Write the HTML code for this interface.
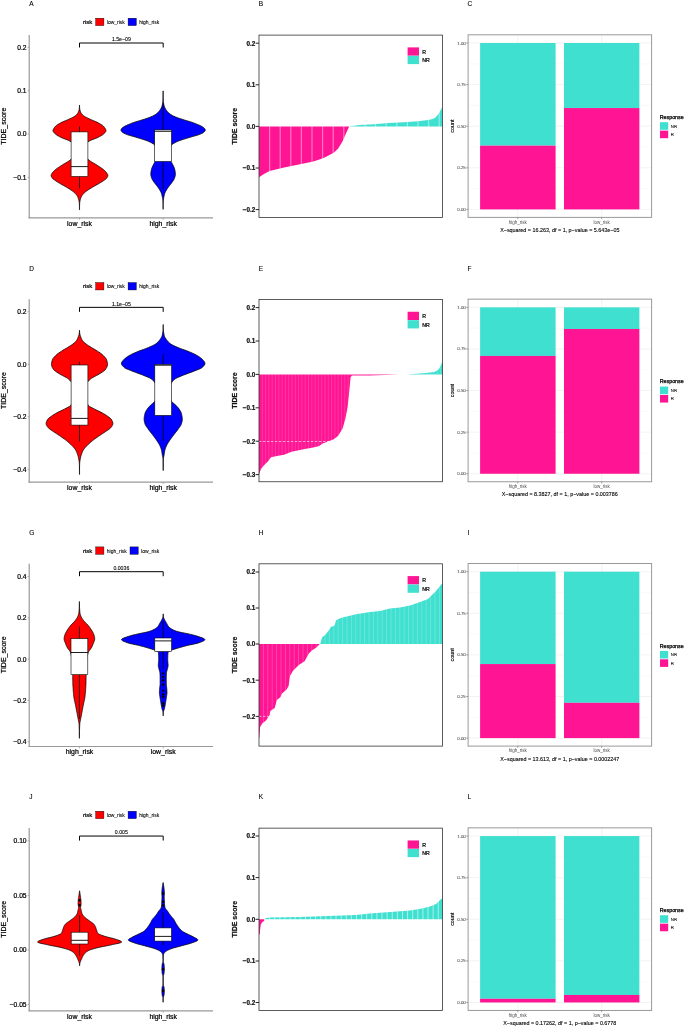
<!DOCTYPE html>
<html><head><meta charset="utf-8"><title>TIDE figure</title><style>html,body{margin:0;padding:0;background:#fff;width:685px;height:1027px;overflow:hidden;}svg{display:block;will-change:transform;font-family:"Liberation Sans", sans-serif;}</style></head><body>
<svg width="685" height="1027" viewBox="0 0 685 1027" font-family='"Liberation Sans", sans-serif'>
<rect width="685" height="1027" fill="#fff"/>
<text x="29.3" y="6.2" font-size="6.5" text-anchor="start" fill="#000" stroke="#000" stroke-width="0.1">A</text>
<text x="83" y="24.1" font-size="6" text-anchor="start" fill="#000" stroke="#000" stroke-width="0.22">risk</text>
<rect x="95.7" y="18.2" width="8.2" height="7.4" fill="#FF0000" stroke="#000" stroke-width="0.4"/>
<text x="106.8" y="23.9" font-size="5" text-anchor="start" fill="#000" stroke="#000" stroke-width="0.08">low_risk</text>
<rect x="128.1" y="18.2" width="8.2" height="7.4" fill="#0000FF" stroke="#000" stroke-width="0.4"/>
<text x="139.2" y="23.9" font-size="5" text-anchor="start" fill="#000" stroke="#000" stroke-width="0.08">high_risk</text>
<line x1="29.2" y1="35" x2="29.2" y2="218.3" stroke="#999" stroke-width="1.2"/>
<line x1="28.6" y1="217.8" x2="213" y2="217.8" stroke="#999" stroke-width="1.2"/>
<line x1="27.6" y1="47.4" x2="29.2" y2="47.4" stroke="#999" stroke-width="0.8"/>
<text x="26.6" y="49.8" font-size="6.7" text-anchor="end" fill="#000" stroke="#000" stroke-width="0.22">0.2</text>
<line x1="27.6" y1="90.7" x2="29.2" y2="90.7" stroke="#999" stroke-width="0.8"/>
<text x="26.6" y="93.1" font-size="6.7" text-anchor="end" fill="#000" stroke="#000" stroke-width="0.22">0.1</text>
<line x1="27.6" y1="134" x2="29.2" y2="134" stroke="#999" stroke-width="0.8"/>
<text x="26.6" y="136.4" font-size="6.7" text-anchor="end" fill="#000" stroke="#000" stroke-width="0.22">0.0</text>
<line x1="27.6" y1="177.4" x2="29.2" y2="177.4" stroke="#999" stroke-width="0.8"/>
<text x="26.6" y="179.8" font-size="6.7" text-anchor="end" fill="#000" stroke="#000" stroke-width="0.22">−0.1</text>
<line x1="79.5" y1="217.8" x2="79.5" y2="219.6" stroke="#999" stroke-width="0.8"/>
<text x="79.5" y="225.6" font-size="6.9" text-anchor="middle" fill="#000" stroke="#000" stroke-width="0.22">low_risk</text>
<line x1="163.2" y1="217.8" x2="163.2" y2="219.6" stroke="#999" stroke-width="0.8"/>
<text x="163.2" y="225.6" font-size="6.9" text-anchor="middle" fill="#000" stroke="#000" stroke-width="0.22">high_risk</text>
<text x="6.3" y="126.2" font-size="7" text-anchor="middle" fill="#000" transform="rotate(-90 6.3 126.2)" stroke="#000" stroke-width="0.22">TIDE_score</text>
<path d="M79.56 105 L79.56 105.66 L79.56 106.32 L79.57 106.98 L79.62 107.63 L79.68 108.29 L79.75 108.95 L79.87 109.61 L80.02 110.27 L80.2 110.93 L80.44 111.58 L80.73 112.24 L81.07 112.9 L81.47 113.56 L81.99 114.22 L82.65 114.88 L83.41 115.54 L84.26 116.19 L85.25 116.85 L86.46 117.51 L87.83 118.17 L89.27 118.83 L90.69 119.49 L92.19 120.15 L93.8 120.8 L95.39 121.46 L96.86 122.12 L98.11 122.78 L99.32 123.44 L100.48 124.1 L101.56 124.75 L102.52 125.41 L103.31 126.07 L103.9 126.73 L104.42 127.39 L104.91 128.05 L105.34 128.71 L105.68 129.36 L105.91 130.02 L106 130.68 L105.87 131.34 L105.51 132 L104.97 132.66 L104.29 133.32 L103.55 133.97 L102.78 134.63 L101.91 135.29 L100.82 135.95 L99.56 136.61 L98.21 137.27 L96.83 137.92 L95.24 138.58 L93.46 139.24 L91.7 139.9 L90.15 140.56 L88.96 141.22 L87.89 141.88 L86.96 142.53 L86.24 143.19 L85.77 143.85 L85.39 144.51 L85.07 145.17 L84.8 145.83 L84.61 146.48 L84.48 147.14 L84.37 147.8 L84.28 148.46 L84.21 149.12 L84.15 149.78 L84.11 150.44 L84.1 151.09 L84.14 151.75 L84.25 152.41 L84.4 153.07 L84.58 153.73 L84.79 154.39 L85.02 155.05 L85.32 155.7 L85.73 156.36 L86.22 157.02 L86.74 157.68 L87.27 158.34 L87.86 159 L88.51 159.65 L89.25 160.31 L90.13 160.97 L91.13 161.63 L92.21 162.29 L93.34 162.95 L94.49 163.61 L95.61 164.26 L96.68 164.92 L97.67 165.58 L98.68 166.24 L99.69 166.9 L100.69 167.56 L101.66 168.22 L102.57 168.87 L103.42 169.53 L104.18 170.19 L104.87 170.85 L105.52 171.51 L106.11 172.17 L106.63 172.82 L107.05 173.48 L107.45 174.14 L107.78 174.8 L107.9 175.46 L107.79 176.12 L107.52 176.78 L107.15 177.43 L106.74 178.09 L106.14 178.75 L105.32 179.41 L104.4 180.07 L103.48 180.73 L102.51 181.38 L101.46 182.04 L100.35 182.7 L99.22 183.36 L98.09 184.02 L96.97 184.68 L95.83 185.34 L94.65 185.99 L93.47 186.65 L92.3 187.31 L91.17 187.97 L90.11 188.63 L89.1 189.29 L88.11 189.95 L87.15 190.6 L86.24 191.26 L85.39 191.92 L84.63 192.58 L83.96 193.24 L83.33 193.9 L82.75 194.55 L82.24 195.21 L81.82 195.87 L81.46 196.53 L81.14 197.19 L80.87 197.85 L80.63 198.51 L80.42 199.16 L80.25 199.82 L80.1 200.48 L79.97 201.14 L79.85 201.8 L79.75 202.46 L79.69 203.12 L79.66 203.77 L79.63 204.43 L79.6 205.09 L79.57 205.75 L79.56 206.41 L79.56 207.07 L79.56 207.72 L79.56 208.38 L79.56 209.04 L79.56 209.7 L79.44 209.7 L79.44 209.04 L79.44 208.38 L79.44 207.72 L79.44 207.07 L79.44 206.41 L79.43 205.75 L79.4 205.09 L79.37 204.43 L79.34 203.77 L79.31 203.12 L79.25 202.46 L79.15 201.8 L79.03 201.14 L78.9 200.48 L78.75 199.82 L78.58 199.16 L78.37 198.51 L78.13 197.85 L77.86 197.19 L77.54 196.53 L77.18 195.87 L76.76 195.21 L76.25 194.55 L75.67 193.9 L75.04 193.24 L74.37 192.58 L73.61 191.92 L72.76 191.26 L71.85 190.6 L70.89 189.95 L69.9 189.29 L68.89 188.63 L67.83 187.97 L66.7 187.31 L65.53 186.65 L64.35 185.99 L63.17 185.34 L62.03 184.68 L60.91 184.02 L59.78 183.36 L58.65 182.7 L57.54 182.04 L56.49 181.38 L55.52 180.73 L54.6 180.07 L53.68 179.41 L52.86 178.75 L52.26 178.09 L51.85 177.43 L51.48 176.78 L51.21 176.12 L51.1 175.46 L51.22 174.8 L51.55 174.14 L51.95 173.48 L52.37 172.82 L52.89 172.17 L53.48 171.51 L54.13 170.85 L54.82 170.19 L55.58 169.53 L56.43 168.87 L57.34 168.22 L58.31 167.56 L59.31 166.9 L60.32 166.24 L61.33 165.58 L62.32 164.92 L63.39 164.26 L64.51 163.61 L65.66 162.95 L66.79 162.29 L67.87 161.63 L68.87 160.97 L69.75 160.31 L70.49 159.65 L71.14 159 L71.73 158.34 L72.26 157.68 L72.78 157.02 L73.27 156.36 L73.68 155.7 L73.98 155.05 L74.21 154.39 L74.42 153.73 L74.6 153.07 L74.75 152.41 L74.86 151.75 L74.9 151.09 L74.89 150.44 L74.85 149.78 L74.79 149.12 L74.72 148.46 L74.63 147.8 L74.52 147.14 L74.39 146.48 L74.2 145.83 L73.93 145.17 L73.61 144.51 L73.23 143.85 L72.76 143.19 L72.04 142.53 L71.11 141.88 L70.04 141.22 L68.85 140.56 L67.3 139.9 L65.54 139.24 L63.76 138.58 L62.17 137.92 L60.79 137.27 L59.44 136.61 L58.18 135.95 L57.09 135.29 L56.22 134.63 L55.45 133.97 L54.71 133.32 L54.03 132.66 L53.49 132 L53.13 131.34 L53 130.68 L53.09 130.02 L53.32 129.36 L53.66 128.71 L54.09 128.05 L54.58 127.39 L55.1 126.73 L55.69 126.07 L56.48 125.41 L57.44 124.75 L58.52 124.1 L59.68 123.44 L60.89 122.78 L62.14 122.12 L63.61 121.46 L65.2 120.8 L66.81 120.15 L68.31 119.49 L69.73 118.83 L71.17 118.17 L72.54 117.51 L73.75 116.85 L74.74 116.19 L75.59 115.54 L76.35 114.88 L77.01 114.22 L77.53 113.56 L77.93 112.9 L78.27 112.24 L78.56 111.58 L78.8 110.93 L78.98 110.27 L79.13 109.61 L79.25 108.95 L79.32 108.29 L79.38 107.63 L79.43 106.98 L79.44 106.32 L79.44 105.66 L79.44 105 Z" fill="#FF0000" stroke="#000" stroke-width="0.75" stroke-linejoin="round"/>
<line x1="79.5" y1="126.3" x2="79.5" y2="131.9" stroke="#000" stroke-width="0.75"/>
<line x1="79.5" y1="176.5" x2="79.5" y2="188.5" stroke="#000" stroke-width="0.75"/>
<rect x="71.1" y="131.9" width="16.8" height="44.6" fill="#fff" stroke="#000" stroke-width="0.6"/>
<line x1="71.1" y1="166.6" x2="87.9" y2="166.6" stroke="#000" stroke-width="0.9"/>
<path d="M163.16 90.9 L163.16 91.64 L163.16 92.39 L163.16 93.13 L163.16 93.88 L163.16 94.62 L163.16 95.37 L163.16 96.11 L163.17 96.86 L163.18 97.6 L163.21 98.35 L163.23 99.09 L163.25 99.84 L163.28 100.58 L163.32 101.33 L163.42 102.07 L163.55 102.81 L163.67 103.56 L163.8 104.3 L163.94 105.05 L164.13 105.79 L164.38 106.54 L164.68 107.28 L165.02 108.03 L165.4 108.77 L165.85 109.52 L166.37 110.26 L166.93 111.01 L167.54 111.75 L168.23 112.49 L169.03 113.24 L169.97 113.98 L171.08 114.73 L172.35 115.47 L173.86 116.22 L175.61 116.96 L177.52 117.71 L179.61 118.45 L181.88 119.2 L184.23 119.94 L186.72 120.69 L189.28 121.43 L191.62 122.18 L193.71 122.92 L195.64 123.66 L197.46 124.41 L199.25 125.15 L200.91 125.9 L202.22 126.64 L203.33 127.39 L204.23 128.13 L204.81 128.88 L205.2 129.62 L205.27 130.37 L204.9 131.11 L204.25 131.86 L203.44 132.6 L202.12 133.35 L200.42 134.09 L198.49 134.83 L196.05 135.58 L193.39 136.32 L190.87 137.07 L188.35 137.81 L185.89 138.56 L183.53 139.3 L181.2 140.05 L179.07 140.79 L177.3 141.54 L175.77 142.28 L174.38 143.03 L173.05 143.77 L171.89 144.52 L171.25 145.26 L170.74 146 L170.34 146.75 L170.04 147.49 L169.84 148.24 L169.68 148.98 L169.53 149.73 L169.41 150.47 L169.33 151.22 L169.3 151.96 L169.32 152.71 L169.37 153.45 L169.45 154.2 L169.54 154.94 L169.65 155.68 L169.78 156.43 L169.96 157.17 L170.19 157.92 L170.44 158.66 L170.67 159.41 L170.88 160.15 L171.08 160.9 L171.31 161.64 L171.6 162.39 L171.96 163.13 L172.36 163.88 L172.76 164.62 L173.14 165.37 L173.48 166.11 L173.83 166.85 L174.17 167.6 L174.46 168.34 L174.68 169.09 L174.83 169.83 L174.98 170.58 L175.12 171.32 L175.23 172.07 L175.32 172.81 L175.38 173.56 L175.4 174.3 L175.35 175.05 L175.23 175.79 L175.04 176.54 L174.8 177.28 L174.54 178.02 L174.27 178.77 L173.94 179.51 L173.5 180.26 L173.01 181 L172.49 181.75 L171.97 182.49 L171.41 183.24 L170.81 183.98 L170.2 184.73 L169.6 185.47 L169.04 186.22 L168.49 186.96 L167.95 187.71 L167.43 188.45 L166.95 189.19 L166.5 189.94 L166.06 190.68 L165.64 191.43 L165.26 192.17 L164.94 192.92 L164.68 193.66 L164.47 194.41 L164.28 195.15 L164.11 195.9 L163.95 196.64 L163.8 197.39 L163.66 198.13 L163.53 198.87 L163.43 199.62 L163.35 200.36 L163.3 201.11 L163.26 201.85 L163.23 202.6 L163.21 203.34 L163.18 204.09 L163.16 204.83 L163.16 205.58 L163.16 206.32 L163.16 207.07 L163.16 207.81 L163.16 208.56 L163.16 209.3 L163.04 209.3 L163.04 208.56 L163.04 207.81 L163.04 207.07 L163.04 206.32 L163.04 205.58 L163.04 204.83 L163.02 204.09 L162.99 203.34 L162.97 202.6 L162.94 201.85 L162.9 201.11 L162.85 200.36 L162.77 199.62 L162.67 198.87 L162.54 198.13 L162.4 197.39 L162.25 196.64 L162.09 195.9 L161.92 195.15 L161.73 194.41 L161.52 193.66 L161.26 192.92 L160.94 192.17 L160.56 191.43 L160.14 190.68 L159.7 189.94 L159.25 189.19 L158.77 188.45 L158.25 187.71 L157.71 186.96 L157.16 186.22 L156.6 185.47 L156 184.73 L155.39 183.98 L154.79 183.24 L154.23 182.49 L153.71 181.75 L153.19 181 L152.7 180.26 L152.26 179.51 L151.93 178.77 L151.66 178.02 L151.4 177.28 L151.16 176.54 L150.97 175.79 L150.85 175.05 L150.8 174.3 L150.82 173.56 L150.88 172.81 L150.97 172.07 L151.08 171.32 L151.22 170.58 L151.37 169.83 L151.52 169.09 L151.74 168.34 L152.03 167.6 L152.37 166.85 L152.72 166.11 L153.06 165.37 L153.44 164.62 L153.84 163.88 L154.24 163.13 L154.6 162.39 L154.89 161.64 L155.12 160.9 L155.32 160.15 L155.53 159.41 L155.76 158.66 L156.01 157.92 L156.24 157.17 L156.42 156.43 L156.55 155.68 L156.66 154.94 L156.75 154.2 L156.83 153.45 L156.88 152.71 L156.9 151.96 L156.87 151.22 L156.79 150.47 L156.67 149.73 L156.52 148.98 L156.36 148.24 L156.16 147.49 L155.86 146.75 L155.46 146 L154.95 145.26 L154.31 144.52 L153.15 143.77 L151.82 143.03 L150.43 142.28 L148.9 141.54 L147.13 140.79 L145 140.05 L142.67 139.3 L140.31 138.56 L137.85 137.81 L135.33 137.07 L132.81 136.32 L130.15 135.58 L127.71 134.83 L125.78 134.09 L124.08 133.35 L122.76 132.6 L121.95 131.86 L121.3 131.11 L120.93 130.37 L121 129.62 L121.39 128.88 L121.97 128.13 L122.87 127.39 L123.98 126.64 L125.29 125.9 L126.95 125.15 L128.74 124.41 L130.56 123.66 L132.49 122.92 L134.58 122.18 L136.92 121.43 L139.48 120.69 L141.97 119.94 L144.32 119.2 L146.59 118.45 L148.68 117.71 L150.59 116.96 L152.34 116.22 L153.85 115.47 L155.12 114.73 L156.23 113.98 L157.17 113.24 L157.97 112.49 L158.66 111.75 L159.27 111.01 L159.83 110.26 L160.35 109.52 L160.8 108.77 L161.18 108.03 L161.52 107.28 L161.82 106.54 L162.07 105.79 L162.26 105.05 L162.4 104.3 L162.53 103.56 L162.65 102.81 L162.78 102.07 L162.88 101.33 L162.92 100.58 L162.95 99.84 L162.97 99.09 L162.99 98.35 L163.02 97.6 L163.03 96.86 L163.04 96.11 L163.04 95.37 L163.04 94.62 L163.04 93.88 L163.04 93.13 L163.04 92.39 L163.04 91.64 L163.04 90.9 Z" fill="#0000FF" stroke="#000" stroke-width="0.75" stroke-linejoin="round"/>
<line x1="163.1" y1="103.3" x2="163.1" y2="129.9" stroke="#000" stroke-width="0.75"/>
<line x1="163.1" y1="161.5" x2="163.1" y2="189.6" stroke="#000" stroke-width="0.75"/>
<rect x="154.7" y="129.9" width="16.8" height="31.6" fill="#fff" stroke="#000" stroke-width="0.6"/>
<line x1="154.7" y1="131.3" x2="171.5" y2="131.3" stroke="#000" stroke-width="0.9"/>
<path d="M79.5 47.5 V43 H163.2 V47.5" fill="none" stroke="#000" stroke-width="1.0"/>
<text x="121.35" y="41.4" font-size="5.2" text-anchor="middle" fill="#000" stroke="#000" stroke-width="0.1">1.5e−09</text>
<text x="29.3" y="270.55" font-size="6.5" text-anchor="start" fill="#000" stroke="#000" stroke-width="0.1">D</text>
<text x="83" y="288.45" font-size="6" text-anchor="start" fill="#000" stroke="#000" stroke-width="0.22">risk</text>
<rect x="95.7" y="282.55" width="8.2" height="7.4" fill="#FF0000" stroke="#000" stroke-width="0.4"/>
<text x="106.8" y="288.25" font-size="5" text-anchor="start" fill="#000" stroke="#000" stroke-width="0.08">low_risk</text>
<rect x="128.1" y="282.55" width="8.2" height="7.4" fill="#0000FF" stroke="#000" stroke-width="0.4"/>
<text x="139.2" y="288.25" font-size="5" text-anchor="start" fill="#000" stroke="#000" stroke-width="0.08">high_risk</text>
<line x1="29.2" y1="299.35" x2="29.2" y2="482.65" stroke="#999" stroke-width="1.2"/>
<line x1="28.6" y1="482.15" x2="213" y2="482.15" stroke="#999" stroke-width="1.2"/>
<line x1="27.6" y1="311.7" x2="29.2" y2="311.7" stroke="#999" stroke-width="0.8"/>
<text x="26.6" y="314.1" font-size="6.7" text-anchor="end" fill="#000" stroke="#000" stroke-width="0.22">0.2</text>
<line x1="27.6" y1="364.3" x2="29.2" y2="364.3" stroke="#999" stroke-width="0.8"/>
<text x="26.6" y="366.7" font-size="6.7" text-anchor="end" fill="#000" stroke="#000" stroke-width="0.22">0.0</text>
<line x1="27.6" y1="416.8" x2="29.2" y2="416.8" stroke="#999" stroke-width="0.8"/>
<text x="26.6" y="419.2" font-size="6.7" text-anchor="end" fill="#000" stroke="#000" stroke-width="0.22">−0.2</text>
<line x1="27.6" y1="469.3" x2="29.2" y2="469.3" stroke="#999" stroke-width="0.8"/>
<text x="26.6" y="471.7" font-size="6.7" text-anchor="end" fill="#000" stroke="#000" stroke-width="0.22">−0.4</text>
<line x1="79.5" y1="482.15" x2="79.5" y2="483.95" stroke="#999" stroke-width="0.8"/>
<text x="79.5" y="489.95" font-size="6.9" text-anchor="middle" fill="#000" stroke="#000" stroke-width="0.22">low_risk</text>
<line x1="163.2" y1="482.15" x2="163.2" y2="483.95" stroke="#999" stroke-width="0.8"/>
<text x="163.2" y="489.95" font-size="6.9" text-anchor="middle" fill="#000" stroke="#000" stroke-width="0.22">high_risk</text>
<text x="6.3" y="390.55" font-size="7" text-anchor="middle" fill="#000" transform="rotate(-90 6.3 390.55)" stroke="#000" stroke-width="0.22">TIDE_score</text>
<path d="M79.56 330.3 L79.56 331.21 L79.61 332.11 L79.7 333.02 L79.83 333.93 L80.03 334.83 L80.34 335.74 L80.68 336.64 L81.01 337.55 L81.35 338.46 L81.75 339.36 L82.24 340.27 L82.93 341.18 L83.83 342.08 L84.85 342.99 L85.94 343.89 L87.16 344.8 L88.53 345.71 L89.97 346.61 L91.42 347.52 L92.96 348.43 L94.55 349.33 L96.08 350.24 L97.48 351.14 L98.85 352.05 L100.18 352.96 L101.43 353.86 L102.54 354.77 L103.47 355.68 L104.35 356.58 L105.17 357.49 L105.88 358.39 L106.43 359.3 L106.76 360.21 L106.99 361.11 L107.2 362.02 L107.36 362.93 L107.46 363.83 L107.5 364.74 L107.39 365.65 L107.1 366.55 L106.68 367.46 L106.16 368.36 L105.58 369.27 L104.85 370.18 L103.77 371.08 L102.46 371.99 L101.03 372.9 L99.57 373.8 L98.09 374.71 L96.39 375.61 L94.61 376.52 L92.89 377.43 L91.4 378.33 L90.25 379.24 L89.28 380.15 L88.44 381.05 L87.64 381.96 L86.87 382.86 L86.19 383.77 L85.65 384.68 L85.26 385.58 L84.9 386.49 L84.57 387.4 L84.32 388.3 L84.15 389.21 L84.1 390.12 L84.1 391.02 L84.1 391.93 L84.1 392.83 L84.1 393.74 L84.1 394.65 L84.13 395.55 L84.28 396.46 L84.53 397.37 L84.84 398.27 L85.19 399.18 L85.53 400.08 L85.93 400.99 L86.4 401.9 L86.89 402.8 L87.35 403.71 L87.8 404.62 L88.42 405.52 L89.52 406.43 L91.11 407.33 L92.92 408.24 L94.68 409.15 L96.49 410.05 L98.41 410.96 L100.28 411.87 L102 412.77 L103.61 413.68 L105.15 414.58 L106.57 415.49 L107.85 416.4 L109.12 417.3 L110.26 418.21 L111.14 419.12 L111.69 420.02 L112.16 420.93 L112.55 421.84 L112.81 422.74 L112.9 423.65 L112.74 424.55 L112.34 425.46 L111.78 426.37 L111.12 427.27 L110.37 428.18 L109.26 429.09 L107.92 429.99 L106.54 430.9 L105.23 431.8 L103.89 432.71 L102.52 433.62 L101.14 434.52 L99.78 435.43 L98.47 436.34 L97.16 437.24 L95.86 438.15 L94.6 439.05 L93.39 439.96 L92.24 440.87 L91.14 441.77 L90.08 442.68 L89.07 443.59 L88.11 444.49 L87.21 445.4 L86.33 446.31 L85.47 447.21 L84.67 448.12 L83.97 449.02 L83.38 449.93 L82.9 450.84 L82.47 451.74 L82.09 452.65 L81.75 453.56 L81.44 454.46 L81.16 455.37 L80.89 456.27 L80.64 457.18 L80.42 458.09 L80.24 458.99 L80.09 459.9 L79.96 460.81 L79.85 461.71 L79.76 462.62 L79.67 463.52 L79.64 464.43 L79.61 465.34 L79.59 466.24 L79.57 467.15 L79.56 468.06 L79.56 468.96 L79.56 469.87 L79.56 470.77 L79.56 471.68 L79.56 472.59 L79.56 473.49 L79.56 474.4 L79.44 474.4 L79.44 473.49 L79.44 472.59 L79.44 471.68 L79.44 470.77 L79.44 469.87 L79.44 468.96 L79.44 468.06 L79.43 467.15 L79.41 466.24 L79.39 465.34 L79.36 464.43 L79.33 463.52 L79.24 462.62 L79.15 461.71 L79.04 460.81 L78.91 459.9 L78.76 458.99 L78.58 458.09 L78.36 457.18 L78.11 456.27 L77.84 455.37 L77.56 454.46 L77.25 453.56 L76.91 452.65 L76.53 451.74 L76.1 450.84 L75.62 449.93 L75.03 449.02 L74.33 448.12 L73.53 447.21 L72.67 446.31 L71.79 445.4 L70.89 444.49 L69.93 443.59 L68.92 442.68 L67.86 441.77 L66.76 440.87 L65.61 439.96 L64.4 439.05 L63.14 438.15 L61.84 437.24 L60.53 436.34 L59.22 435.43 L57.86 434.52 L56.48 433.62 L55.11 432.71 L53.77 431.8 L52.46 430.9 L51.08 429.99 L49.74 429.09 L48.63 428.18 L47.88 427.27 L47.22 426.37 L46.66 425.46 L46.26 424.55 L46.1 423.65 L46.19 422.74 L46.45 421.84 L46.84 420.93 L47.31 420.02 L47.86 419.12 L48.74 418.21 L49.88 417.3 L51.15 416.4 L52.43 415.49 L53.85 414.58 L55.39 413.68 L57 412.77 L58.72 411.87 L60.59 410.96 L62.51 410.05 L64.32 409.15 L66.08 408.24 L67.89 407.33 L69.48 406.43 L70.58 405.52 L71.2 404.62 L71.65 403.71 L72.11 402.8 L72.6 401.9 L73.07 400.99 L73.47 400.08 L73.81 399.18 L74.16 398.27 L74.47 397.37 L74.72 396.46 L74.87 395.55 L74.9 394.65 L74.9 393.74 L74.9 392.83 L74.9 391.93 L74.9 391.02 L74.9 390.12 L74.85 389.21 L74.68 388.3 L74.43 387.4 L74.1 386.49 L73.74 385.58 L73.35 384.68 L72.81 383.77 L72.13 382.86 L71.36 381.96 L70.56 381.05 L69.72 380.15 L68.75 379.24 L67.6 378.33 L66.11 377.43 L64.39 376.52 L62.61 375.61 L60.91 374.71 L59.43 373.8 L57.97 372.9 L56.54 371.99 L55.23 371.08 L54.15 370.18 L53.42 369.27 L52.84 368.36 L52.32 367.46 L51.9 366.55 L51.61 365.65 L51.5 364.74 L51.54 363.83 L51.64 362.93 L51.8 362.02 L52.01 361.11 L52.24 360.21 L52.57 359.3 L53.12 358.39 L53.83 357.49 L54.65 356.58 L55.53 355.68 L56.46 354.77 L57.57 353.86 L58.82 352.96 L60.15 352.05 L61.52 351.14 L62.92 350.24 L64.45 349.33 L66.04 348.43 L67.58 347.52 L69.03 346.61 L70.47 345.71 L71.84 344.8 L73.06 343.89 L74.15 342.99 L75.17 342.08 L76.07 341.18 L76.76 340.27 L77.25 339.36 L77.65 338.46 L77.99 337.55 L78.32 336.64 L78.66 335.74 L78.97 334.83 L79.17 333.93 L79.3 333.02 L79.39 332.11 L79.44 331.21 L79.44 330.3 Z" fill="#FF0000" stroke="#000" stroke-width="0.75" stroke-linejoin="round"/>
<line x1="79.5" y1="361.8" x2="79.5" y2="365" stroke="#000" stroke-width="0.75"/>
<line x1="79.5" y1="425.1" x2="79.5" y2="441.6" stroke="#000" stroke-width="0.75"/>
<rect x="71.1" y="365" width="16.8" height="60.1" fill="#fff" stroke="#000" stroke-width="0.6"/>
<line x1="71.1" y1="418.4" x2="87.9" y2="418.4" stroke="#000" stroke-width="0.9"/>
<path d="M163.26 324.6 L163.26 325.52 L163.26 326.44 L163.26 327.35 L163.26 328.27 L163.3 329.19 L163.35 330.11 L163.4 331.02 L163.57 331.94 L163.76 332.86 L163.91 333.78 L164.06 334.69 L164.25 335.61 L164.55 336.53 L165.01 337.45 L165.58 338.36 L166.2 339.28 L166.86 340.2 L167.6 341.12 L168.44 342.03 L169.41 342.95 L170.56 343.87 L172.06 344.79 L173.87 345.71 L175.87 346.62 L177.96 347.54 L180.24 348.46 L182.8 349.38 L185.43 350.29 L187.89 351.21 L190.09 352.13 L192.2 353.05 L194.2 353.96 L196.01 354.88 L197.59 355.8 L199.05 356.72 L200.38 357.63 L201.54 358.55 L202.46 359.47 L203.29 360.39 L204.07 361.3 L204.67 362.22 L204.98 363.14 L204.9 364.06 L204.46 364.97 L203.76 365.89 L202.9 366.81 L201.87 367.73 L200.2 368.65 L198.05 369.56 L195.69 370.48 L193.42 371.4 L191.04 372.32 L188.51 373.23 L185.98 374.15 L183.62 375.07 L181.37 375.99 L179.09 376.9 L177 377.82 L175.31 378.74 L174.14 379.66 L173.23 380.57 L172.47 381.49 L171.79 382.41 L171.13 383.33 L170.51 384.24 L170 385.16 L169.68 386.08 L169.48 387 L169.3 387.92 L169.16 388.83 L169.05 389.75 L169 390.67 L169.01 391.59 L169.04 392.5 L169.11 393.42 L169.2 394.34 L169.3 395.26 L169.43 396.17 L169.67 397.09 L170.03 398.01 L170.44 398.93 L170.85 399.84 L171.3 400.76 L171.86 401.68 L172.7 402.6 L173.78 403.51 L174.92 404.43 L175.95 405.35 L176.82 406.27 L177.64 407.18 L178.4 408.1 L179.08 409.02 L179.68 409.94 L180.25 410.86 L180.76 411.77 L181.18 412.69 L181.45 413.61 L181.67 414.53 L181.86 415.44 L182.03 416.36 L182.17 417.28 L182.26 418.2 L182.3 419.11 L182.27 420.03 L182.15 420.95 L181.96 421.87 L181.72 422.78 L181.46 423.7 L181.13 424.62 L180.66 425.54 L180.08 426.45 L179.43 427.37 L178.75 428.29 L178.09 429.21 L177.44 430.13 L176.74 431.04 L176.01 431.96 L175.28 432.88 L174.56 433.8 L173.86 434.71 L173.17 435.63 L172.48 436.55 L171.79 437.47 L171.12 438.38 L170.47 439.3 L169.84 440.22 L169.21 441.14 L168.58 442.05 L167.98 442.97 L167.43 443.89 L166.94 444.81 L166.52 445.72 L166.11 446.64 L165.74 447.56 L165.4 448.48 L165.11 449.39 L164.87 450.31 L164.68 451.23 L164.52 452.15 L164.37 453.07 L164.23 453.98 L164.09 454.9 L163.92 455.82 L163.73 456.74 L163.56 457.65 L163.45 458.57 L163.37 459.49 L163.34 460.41 L163.31 461.32 L163.29 462.24 L163.27 463.16 L163.26 464.08 L163.26 464.99 L163.26 465.91 L163.26 466.83 L163.26 467.75 L163.26 468.66 L163.26 469.58 L163.26 470.5 L163.14 470.5 L163.14 469.58 L163.14 468.66 L163.14 467.75 L163.14 466.83 L163.14 465.91 L163.14 464.99 L163.14 464.08 L163.13 463.16 L163.11 462.24 L163.09 461.32 L163.06 460.41 L163.03 459.49 L162.95 458.57 L162.84 457.65 L162.67 456.74 L162.48 455.82 L162.31 454.9 L162.17 453.98 L162.03 453.07 L161.88 452.15 L161.72 451.23 L161.53 450.31 L161.29 449.39 L161 448.48 L160.66 447.56 L160.29 446.64 L159.88 445.72 L159.46 444.81 L158.97 443.89 L158.42 442.97 L157.82 442.05 L157.19 441.14 L156.56 440.22 L155.93 439.3 L155.28 438.38 L154.61 437.47 L153.92 436.55 L153.23 435.63 L152.54 434.71 L151.84 433.8 L151.12 432.88 L150.39 431.96 L149.66 431.04 L148.96 430.13 L148.31 429.21 L147.65 428.29 L146.97 427.37 L146.32 426.45 L145.74 425.54 L145.27 424.62 L144.94 423.7 L144.68 422.78 L144.44 421.87 L144.25 420.95 L144.13 420.03 L144.1 419.11 L144.14 418.2 L144.23 417.28 L144.37 416.36 L144.54 415.44 L144.73 414.53 L144.95 413.61 L145.22 412.69 L145.64 411.77 L146.15 410.86 L146.72 409.94 L147.32 409.02 L148 408.1 L148.76 407.18 L149.58 406.27 L150.45 405.35 L151.48 404.43 L152.62 403.51 L153.7 402.6 L154.54 401.68 L155.1 400.76 L155.55 399.84 L155.96 398.93 L156.37 398.01 L156.73 397.09 L156.97 396.17 L157.1 395.26 L157.2 394.34 L157.29 393.42 L157.36 392.5 L157.39 391.59 L157.4 390.67 L157.35 389.75 L157.24 388.83 L157.1 387.92 L156.92 387 L156.72 386.08 L156.4 385.16 L155.89 384.24 L155.27 383.33 L154.61 382.41 L153.93 381.49 L153.17 380.57 L152.26 379.66 L151.09 378.74 L149.4 377.82 L147.31 376.9 L145.03 375.99 L142.78 375.07 L140.42 374.15 L137.89 373.23 L135.36 372.32 L132.98 371.4 L130.71 370.48 L128.35 369.56 L126.2 368.65 L124.53 367.73 L123.5 366.81 L122.64 365.89 L121.94 364.97 L121.5 364.06 L121.42 363.14 L121.73 362.22 L122.33 361.3 L123.11 360.39 L123.94 359.47 L124.86 358.55 L126.02 357.63 L127.35 356.72 L128.81 355.8 L130.39 354.88 L132.2 353.96 L134.2 353.05 L136.31 352.13 L138.51 351.21 L140.97 350.29 L143.6 349.38 L146.16 348.46 L148.44 347.54 L150.53 346.62 L152.53 345.71 L154.34 344.79 L155.84 343.87 L156.99 342.95 L157.96 342.03 L158.8 341.12 L159.54 340.2 L160.2 339.28 L160.82 338.36 L161.39 337.45 L161.85 336.53 L162.15 335.61 L162.34 334.69 L162.49 333.78 L162.64 332.86 L162.83 331.94 L163 331.02 L163.05 330.11 L163.1 329.19 L163.14 328.27 L163.14 327.35 L163.14 326.44 L163.14 325.52 L163.14 324.6 Z" fill="#0000FF" stroke="#000" stroke-width="0.75" stroke-linejoin="round"/>
<line x1="163.2" y1="353.9" x2="163.2" y2="364.3" stroke="#000" stroke-width="0.75"/>
<line x1="163.2" y1="415.4" x2="163.2" y2="441" stroke="#000" stroke-width="0.75"/>
<rect x="154.8" y="364.3" width="16.8" height="51.1" fill="#fff" stroke="#000" stroke-width="0.6"/>
<line x1="154.8" y1="365.2" x2="171.6" y2="365.2" stroke="#000" stroke-width="0.9"/>
<path d="M79.5 311.85 V307.35 H163.2 V311.85" fill="none" stroke="#000" stroke-width="1.0"/>
<text x="121.35" y="305.75" font-size="5.2" text-anchor="middle" fill="#000" stroke="#000" stroke-width="0.1">1.1e−05</text>
<text x="29.3" y="534.9" font-size="6.5" text-anchor="start" fill="#000" stroke="#000" stroke-width="0.1">G</text>
<text x="83" y="552.8" font-size="6" text-anchor="start" fill="#000" stroke="#000" stroke-width="0.22">risk</text>
<rect x="95.7" y="546.9" width="8.2" height="7.4" fill="#FF0000" stroke="#000" stroke-width="0.4"/>
<text x="106.8" y="552.6" font-size="5" text-anchor="start" fill="#000" stroke="#000" stroke-width="0.08">high_risk</text>
<rect x="130" y="546.9" width="8.2" height="7.4" fill="#0000FF" stroke="#000" stroke-width="0.4"/>
<text x="141.1" y="552.6" font-size="5" text-anchor="start" fill="#000" stroke="#000" stroke-width="0.08">low_risk</text>
<line x1="29.2" y1="563.7" x2="29.2" y2="747" stroke="#999" stroke-width="1.2"/>
<line x1="28.6" y1="746.5" x2="213" y2="746.5" stroke="#999" stroke-width="1.2"/>
<line x1="27.6" y1="576.5" x2="29.2" y2="576.5" stroke="#999" stroke-width="0.8"/>
<text x="26.6" y="578.9" font-size="6.7" text-anchor="end" fill="#000" stroke="#000" stroke-width="0.22">0.4</text>
<line x1="27.6" y1="617.8" x2="29.2" y2="617.8" stroke="#999" stroke-width="0.8"/>
<text x="26.6" y="620.2" font-size="6.7" text-anchor="end" fill="#000" stroke="#000" stroke-width="0.22">0.2</text>
<line x1="27.6" y1="659.1" x2="29.2" y2="659.1" stroke="#999" stroke-width="0.8"/>
<text x="26.6" y="661.5" font-size="6.7" text-anchor="end" fill="#000" stroke="#000" stroke-width="0.22">0.0</text>
<line x1="27.6" y1="700.4" x2="29.2" y2="700.4" stroke="#999" stroke-width="0.8"/>
<text x="26.6" y="702.8" font-size="6.7" text-anchor="end" fill="#000" stroke="#000" stroke-width="0.22">−0.2</text>
<line x1="27.6" y1="741.7" x2="29.2" y2="741.7" stroke="#999" stroke-width="0.8"/>
<text x="26.6" y="744.1" font-size="6.7" text-anchor="end" fill="#000" stroke="#000" stroke-width="0.22">−0.4</text>
<line x1="79.5" y1="746.5" x2="79.5" y2="748.3" stroke="#999" stroke-width="0.8"/>
<text x="79.5" y="754.3" font-size="6.9" text-anchor="middle" fill="#000" stroke="#000" stroke-width="0.22">high_risk</text>
<line x1="163.2" y1="746.5" x2="163.2" y2="748.3" stroke="#999" stroke-width="0.8"/>
<text x="163.2" y="754.3" font-size="6.9" text-anchor="middle" fill="#000" stroke="#000" stroke-width="0.22">low_risk</text>
<text x="6.3" y="654.9" font-size="7" text-anchor="middle" fill="#000" transform="rotate(-90 6.3 654.9)" stroke="#000" stroke-width="0.22">TIDE_score</text>
<path d="M79.46 601.6 L79.46 602.46 L79.46 603.32 L79.46 604.18 L79.46 605.04 L79.48 605.9 L79.52 606.76 L79.56 607.62 L79.6 608.48 L79.66 609.34 L79.72 610.2 L79.78 611.06 L79.85 611.92 L79.93 612.78 L80.08 613.64 L80.31 614.5 L80.6 615.36 L80.92 616.22 L81.28 617.08 L81.72 617.94 L82.27 618.79 L82.9 619.65 L83.57 620.51 L84.26 621.37 L85.02 622.23 L85.87 623.09 L86.76 623.95 L87.61 624.81 L88.38 625.67 L89.06 626.53 L89.7 627.39 L90.31 628.25 L90.88 629.11 L91.42 629.97 L91.94 630.83 L92.47 631.69 L92.96 632.55 L93.39 633.41 L93.73 634.27 L93.99 635.13 L94.23 635.99 L94.45 636.85 L94.61 637.71 L94.69 638.57 L94.67 639.43 L94.49 640.29 L94.2 641.15 L93.87 642.01 L93.52 642.87 L93.21 643.73 L92.88 644.59 L92.53 645.45 L92.14 646.31 L91.72 647.17 L91.25 648.03 L90.64 648.89 L89.96 649.75 L89.3 650.61 L88.75 651.47 L88.38 652.33 L88.08 653.18 L87.82 654.04 L87.58 654.9 L87.38 655.76 L87.21 656.62 L87.07 657.48 L86.96 658.34 L86.87 659.2 L86.78 660.06 L86.71 660.92 L86.64 661.78 L86.58 662.64 L86.53 663.5 L86.48 664.36 L86.44 665.22 L86.4 666.08 L86.36 666.94 L86.32 667.8 L86.29 668.66 L86.26 669.52 L86.23 670.38 L86.2 671.24 L86.18 672.1 L86.15 672.96 L86.13 673.82 L86.11 674.68 L86.1 675.54 L86.08 676.4 L86.07 677.26 L86.06 678.12 L86.05 678.98 L86.04 679.84 L86.03 680.7 L86.02 681.56 L86.01 682.42 L85.99 683.28 L85.96 684.14 L85.92 685 L85.87 685.86 L85.82 686.72 L85.77 687.57 L85.71 688.43 L85.65 689.29 L85.59 690.15 L85.53 691.01 L85.46 691.87 L85.39 692.73 L85.31 693.59 L85.23 694.45 L85.14 695.31 L85.04 696.17 L84.93 697.03 L84.82 697.89 L84.67 698.75 L84.5 699.61 L84.32 700.47 L84.12 701.33 L83.93 702.19 L83.73 703.05 L83.54 703.91 L83.37 704.77 L83.2 705.63 L83.03 706.49 L82.87 707.35 L82.71 708.21 L82.55 709.07 L82.39 709.93 L82.23 710.79 L82.07 711.65 L81.9 712.51 L81.74 713.37 L81.57 714.23 L81.41 715.09 L81.24 715.95 L81.07 716.81 L80.91 717.67 L80.75 718.53 L80.58 719.39 L80.41 720.25 L80.21 721.11 L80.03 721.96 L79.89 722.82 L79.8 723.68 L79.76 724.54 L79.71 725.4 L79.67 726.26 L79.63 727.12 L79.6 727.98 L79.57 728.84 L79.54 729.7 L79.51 730.56 L79.49 731.42 L79.47 732.28 L79.46 733.14 L79.46 734 L79.46 734.86 L79.46 735.72 L79.46 736.58 L79.46 737.44 L79.46 738.3 L79.34 738.3 L79.34 737.44 L79.34 736.58 L79.34 735.72 L79.34 734.86 L79.34 734 L79.34 733.14 L79.33 732.28 L79.31 731.42 L79.29 730.56 L79.26 729.7 L79.23 728.84 L79.2 727.98 L79.17 727.12 L79.13 726.26 L79.09 725.4 L79.04 724.54 L79 723.68 L78.91 722.82 L78.77 721.96 L78.59 721.11 L78.39 720.25 L78.22 719.39 L78.05 718.53 L77.89 717.67 L77.73 716.81 L77.56 715.95 L77.39 715.09 L77.23 714.23 L77.06 713.37 L76.9 712.51 L76.73 711.65 L76.57 710.79 L76.41 709.93 L76.25 709.07 L76.09 708.21 L75.93 707.35 L75.77 706.49 L75.6 705.63 L75.43 704.77 L75.26 703.91 L75.07 703.05 L74.87 702.19 L74.68 701.33 L74.48 700.47 L74.3 699.61 L74.13 698.75 L73.98 697.89 L73.87 697.03 L73.76 696.17 L73.66 695.31 L73.57 694.45 L73.49 693.59 L73.41 692.73 L73.34 691.87 L73.27 691.01 L73.21 690.15 L73.15 689.29 L73.09 688.43 L73.03 687.57 L72.98 686.72 L72.93 685.86 L72.88 685 L72.84 684.14 L72.81 683.28 L72.79 682.42 L72.78 681.56 L72.77 680.7 L72.76 679.84 L72.75 678.98 L72.74 678.12 L72.73 677.26 L72.72 676.4 L72.7 675.54 L72.69 674.68 L72.67 673.82 L72.65 672.96 L72.62 672.1 L72.6 671.24 L72.57 670.38 L72.54 669.52 L72.51 668.66 L72.48 667.8 L72.44 666.94 L72.4 666.08 L72.36 665.22 L72.32 664.36 L72.27 663.5 L72.22 662.64 L72.16 661.78 L72.09 660.92 L72.02 660.06 L71.93 659.2 L71.84 658.34 L71.73 657.48 L71.59 656.62 L71.42 655.76 L71.22 654.9 L70.98 654.04 L70.72 653.18 L70.42 652.33 L70.05 651.47 L69.5 650.61 L68.84 649.75 L68.16 648.89 L67.55 648.03 L67.08 647.17 L66.66 646.31 L66.27 645.45 L65.92 644.59 L65.59 643.73 L65.28 642.87 L64.93 642.01 L64.6 641.15 L64.31 640.29 L64.13 639.43 L64.11 638.57 L64.19 637.71 L64.35 636.85 L64.57 635.99 L64.81 635.13 L65.07 634.27 L65.41 633.41 L65.84 632.55 L66.33 631.69 L66.86 630.83 L67.38 629.97 L67.92 629.11 L68.49 628.25 L69.1 627.39 L69.74 626.53 L70.42 625.67 L71.19 624.81 L72.04 623.95 L72.93 623.09 L73.78 622.23 L74.54 621.37 L75.23 620.51 L75.9 619.65 L76.53 618.79 L77.08 617.94 L77.52 617.08 L77.88 616.22 L78.2 615.36 L78.49 614.5 L78.72 613.64 L78.87 612.78 L78.95 611.92 L79.02 611.06 L79.08 610.2 L79.14 609.34 L79.2 608.48 L79.24 607.62 L79.28 606.76 L79.32 605.9 L79.34 605.04 L79.34 604.18 L79.34 603.32 L79.34 602.46 L79.34 601.6 Z" fill="#FF0000" stroke="#000" stroke-width="0.75" stroke-linejoin="round"/>
<line x1="79.4" y1="626.4" x2="79.4" y2="638.6" stroke="#000" stroke-width="0.75"/>
<line x1="79.4" y1="674.7" x2="79.4" y2="719" stroke="#000" stroke-width="0.75"/>
<rect x="71" y="638.6" width="16.8" height="36.1" fill="#fff" stroke="#000" stroke-width="0.6"/>
<line x1="71" y1="652.5" x2="87.8" y2="652.5" stroke="#000" stroke-width="0.9"/>
<path d="M163.26 613.9 L163.26 614.54 L163.26 615.18 L163.33 615.82 L163.42 616.46 L163.53 617.1 L163.66 617.75 L163.91 618.39 L164.22 619.03 L164.53 619.67 L164.86 620.31 L165.22 620.95 L165.6 621.59 L165.98 622.23 L166.36 622.87 L166.74 623.51 L167.08 624.15 L167.42 624.79 L167.79 625.44 L168.19 626.08 L168.67 626.72 L169.25 627.36 L170.04 628 L171.01 628.64 L172.12 629.28 L173.34 629.92 L174.75 630.56 L176.45 631.2 L178.52 631.84 L181.5 632.49 L184.91 633.13 L187.93 633.77 L190.7 634.41 L193.36 635.05 L195.77 635.69 L197.79 636.33 L199.68 636.97 L201.55 637.61 L203.2 638.25 L204.39 638.89 L204.9 639.54 L204.61 640.18 L203.72 640.82 L202.38 641.46 L200.77 642.1 L199.06 642.74 L196.94 643.38 L194.09 644.02 L190.96 644.66 L188 645.3 L185.51 645.94 L183.17 646.58 L180.93 647.23 L178.77 647.87 L176.62 648.51 L174.43 649.15 L172.45 649.79 L170.93 650.43 L169.61 651.07 L168.55 651.71 L168.09 652.35 L167.99 652.99 L167.91 653.63 L167.86 654.28 L167.83 654.92 L167.8 655.56 L167.77 656.2 L167.75 656.84 L167.73 657.48 L167.72 658.12 L167.71 658.76 L167.7 659.4 L167.71 660.04 L167.74 660.68 L167.79 661.33 L167.85 661.97 L167.91 662.61 L167.98 663.25 L168.03 663.89 L168.08 664.53 L168.1 665.17 L168.08 665.81 L168.01 666.45 L167.88 667.09 L167.73 667.73 L167.57 668.37 L167.42 669.02 L167.26 669.66 L167.07 670.3 L166.87 670.94 L166.69 671.58 L166.56 672.22 L166.49 672.86 L166.45 673.5 L166.41 674.14 L166.38 674.78 L166.35 675.42 L166.33 676.07 L166.31 676.71 L166.3 677.35 L166.3 677.99 L166.3 678.63 L166.3 679.27 L166.3 679.91 L166.3 680.55 L166.3 681.19 L166.3 681.83 L166.3 682.47 L166.3 683.12 L166.3 683.76 L166.32 684.4 L166.37 685.04 L166.43 685.68 L166.51 686.32 L166.6 686.96 L166.68 687.6 L166.75 688.24 L166.81 688.88 L166.85 689.52 L166.9 690.16 L166.94 690.81 L166.98 691.45 L167 692.09 L166.99 692.73 L166.96 693.37 L166.89 694.01 L166.8 694.65 L166.71 695.29 L166.62 695.93 L166.54 696.57 L166.44 697.21 L166.34 697.86 L166.23 698.5 L166.13 699.14 L166.02 699.78 L165.91 700.42 L165.81 701.06 L165.71 701.7 L165.62 702.34 L165.52 702.98 L165.42 703.62 L165.31 704.26 L165.2 704.91 L165.08 705.55 L164.97 706.19 L164.85 706.83 L164.72 707.47 L164.58 708.11 L164.42 708.75 L164.24 709.39 L163.96 710.03 L163.71 710.67 L163.53 711.31 L163.4 711.95 L163.35 712.6 L163.3 713.24 L163.26 713.88 L163.26 714.52 L163.26 715.16 L163.26 715.8 L163.14 715.8 L163.14 715.16 L163.14 714.52 L163.14 713.88 L163.1 713.24 L163.05 712.6 L163 711.95 L162.87 711.31 L162.69 710.67 L162.44 710.03 L162.16 709.39 L161.98 708.75 L161.82 708.11 L161.68 707.47 L161.55 706.83 L161.43 706.19 L161.32 705.55 L161.2 704.91 L161.09 704.26 L160.98 703.62 L160.88 702.98 L160.78 702.34 L160.69 701.7 L160.59 701.06 L160.49 700.42 L160.38 699.78 L160.27 699.14 L160.17 698.5 L160.06 697.86 L159.96 697.21 L159.86 696.57 L159.78 695.93 L159.69 695.29 L159.6 694.65 L159.51 694.01 L159.44 693.37 L159.41 692.73 L159.4 692.09 L159.42 691.45 L159.46 690.81 L159.5 690.16 L159.55 689.52 L159.59 688.88 L159.65 688.24 L159.72 687.6 L159.8 686.96 L159.89 686.32 L159.97 685.68 L160.03 685.04 L160.08 684.4 L160.1 683.76 L160.1 683.12 L160.1 682.47 L160.1 681.83 L160.1 681.19 L160.1 680.55 L160.1 679.91 L160.1 679.27 L160.1 678.63 L160.1 677.99 L160.1 677.35 L160.09 676.71 L160.07 676.07 L160.05 675.42 L160.02 674.78 L159.99 674.14 L159.95 673.5 L159.91 672.86 L159.84 672.22 L159.71 671.58 L159.53 670.94 L159.33 670.3 L159.14 669.66 L158.98 669.02 L158.83 668.37 L158.67 667.73 L158.52 667.09 L158.39 666.45 L158.32 665.81 L158.3 665.17 L158.32 664.53 L158.37 663.89 L158.42 663.25 L158.49 662.61 L158.55 661.97 L158.61 661.33 L158.66 660.68 L158.69 660.04 L158.7 659.4 L158.69 658.76 L158.68 658.12 L158.67 657.48 L158.65 656.84 L158.63 656.2 L158.6 655.56 L158.57 654.92 L158.54 654.28 L158.49 653.63 L158.41 652.99 L158.31 652.35 L157.85 651.71 L156.79 651.07 L155.47 650.43 L153.95 649.79 L151.97 649.15 L149.78 648.51 L147.63 647.87 L145.47 647.23 L143.23 646.58 L140.89 645.94 L138.4 645.3 L135.44 644.66 L132.31 644.02 L129.46 643.38 L127.34 642.74 L125.63 642.1 L124.02 641.46 L122.68 640.82 L121.79 640.18 L121.5 639.54 L122.01 638.89 L123.2 638.25 L124.85 637.61 L126.72 636.97 L128.61 636.33 L130.63 635.69 L133.04 635.05 L135.7 634.41 L138.47 633.77 L141.49 633.13 L144.9 632.49 L147.88 631.84 L149.95 631.2 L151.65 630.56 L153.06 629.92 L154.28 629.28 L155.39 628.64 L156.36 628 L157.15 627.36 L157.73 626.72 L158.21 626.08 L158.61 625.44 L158.98 624.79 L159.32 624.15 L159.66 623.51 L160.04 622.87 L160.42 622.23 L160.8 621.59 L161.18 620.95 L161.54 620.31 L161.87 619.67 L162.18 619.03 L162.49 618.39 L162.74 617.75 L162.87 617.1 L162.98 616.46 L163.07 615.82 L163.14 615.18 L163.14 614.54 L163.14 613.9 Z" fill="#0000FF" stroke="#000" stroke-width="0.75" stroke-linejoin="round"/>
<line x1="163.2" y1="621" x2="163.2" y2="638" stroke="#000" stroke-width="0.75"/>
<line x1="163.2" y1="651.6" x2="163.2" y2="669.1" stroke="#000" stroke-width="0.75"/>
<rect x="154.8" y="638" width="16.8" height="13.6" fill="#fff" stroke="#000" stroke-width="0.6"/>
<line x1="154.8" y1="640.9" x2="171.6" y2="640.9" stroke="#000" stroke-width="0.9"/>
<circle cx="163.2" cy="673.5" r="1.2" fill="#000"/>
<circle cx="163.2" cy="677.1" r="1.2" fill="#000"/>
<circle cx="163.2" cy="680.4" r="1.2" fill="#000"/>
<circle cx="163.2" cy="684.8" r="1.2" fill="#000"/>
<circle cx="163.2" cy="690.6" r="1.2" fill="#000"/>
<circle cx="163.2" cy="694.3" r="1.2" fill="#000"/>
<circle cx="163.2" cy="696.8" r="1.2" fill="#000"/>
<circle cx="163.2" cy="703.4" r="1.2" fill="#000"/>
<circle cx="163.2" cy="705.6" r="1.2" fill="#000"/>
<path d="M79.5 576.2 V571.7 H163.2 V576.2" fill="none" stroke="#000" stroke-width="1.0"/>
<text x="121.35" y="570.1" font-size="5.2" text-anchor="middle" fill="#000" stroke="#000" stroke-width="0.1">0.0036</text>
<text x="29.3" y="799.25" font-size="6.5" text-anchor="start" fill="#000" stroke="#000" stroke-width="0.1">J</text>
<text x="83" y="817.15" font-size="6" text-anchor="start" fill="#000" stroke="#000" stroke-width="0.22">risk</text>
<rect x="95.7" y="811.25" width="8.2" height="7.4" fill="#FF0000" stroke="#000" stroke-width="0.4"/>
<text x="106.8" y="816.95" font-size="5" text-anchor="start" fill="#000" stroke="#000" stroke-width="0.08">low_risk</text>
<rect x="128.1" y="811.25" width="8.2" height="7.4" fill="#0000FF" stroke="#000" stroke-width="0.4"/>
<text x="139.2" y="816.95" font-size="5" text-anchor="start" fill="#000" stroke="#000" stroke-width="0.08">high_risk</text>
<line x1="29.2" y1="828.05" x2="29.2" y2="1011.35" stroke="#999" stroke-width="1.2"/>
<line x1="28.6" y1="1010.85" x2="213" y2="1010.85" stroke="#999" stroke-width="1.2"/>
<line x1="27.6" y1="840.9" x2="29.2" y2="840.9" stroke="#999" stroke-width="0.8"/>
<text x="26.6" y="843.3" font-size="6.7" text-anchor="end" fill="#000" stroke="#000" stroke-width="0.22">0.10</text>
<line x1="27.6" y1="895.5" x2="29.2" y2="895.5" stroke="#999" stroke-width="0.8"/>
<text x="26.6" y="897.9" font-size="6.7" text-anchor="end" fill="#000" stroke="#000" stroke-width="0.22">0.05</text>
<line x1="27.6" y1="950" x2="29.2" y2="950" stroke="#999" stroke-width="0.8"/>
<text x="26.6" y="952.4" font-size="6.7" text-anchor="end" fill="#000" stroke="#000" stroke-width="0.22">0.00</text>
<line x1="27.6" y1="1004.5" x2="29.2" y2="1004.5" stroke="#999" stroke-width="0.8"/>
<text x="26.6" y="1006.9" font-size="6.7" text-anchor="end" fill="#000" stroke="#000" stroke-width="0.22">−0.05</text>
<line x1="79.5" y1="1010.85" x2="79.5" y2="1012.65" stroke="#999" stroke-width="0.8"/>
<text x="79.5" y="1018.65" font-size="6.9" text-anchor="middle" fill="#000" stroke="#000" stroke-width="0.22">low_risk</text>
<line x1="163.2" y1="1010.85" x2="163.2" y2="1012.65" stroke="#999" stroke-width="0.8"/>
<text x="163.2" y="1018.65" font-size="6.9" text-anchor="middle" fill="#000" stroke="#000" stroke-width="0.22">high_risk</text>
<text x="6.3" y="919.25" font-size="7" text-anchor="middle" fill="#000" transform="rotate(-90 6.3 919.25)" stroke="#000" stroke-width="0.22">TIDE_score</text>
<path d="M79.66 890.8 L79.67 891.27 L79.75 891.74 L79.82 892.22 L79.89 892.69 L79.96 893.16 L80.03 893.63 L80.1 894.1 L80.17 894.57 L80.24 895.05 L80.3 895.52 L80.37 895.99 L80.44 896.46 L80.51 896.93 L80.58 897.4 L80.66 897.88 L80.73 898.35 L80.79 898.82 L80.84 899.29 L80.89 899.76 L80.92 900.23 L80.96 900.71 L80.99 901.18 L81.02 901.65 L81.05 902.12 L81.07 902.59 L81.09 903.06 L81.1 903.54 L81.1 904.01 L81.07 904.48 L81 904.95 L80.91 905.42 L80.81 905.89 L80.71 906.37 L80.64 906.84 L80.6 907.31 L80.62 907.78 L80.69 908.25 L80.8 908.72 L80.92 909.2 L81.05 909.67 L81.15 910.14 L81.25 910.61 L81.35 911.08 L81.45 911.55 L81.56 912.03 L81.68 912.5 L81.82 912.97 L81.99 913.44 L82.2 913.91 L82.44 914.38 L82.72 914.86 L83.04 915.33 L83.38 915.8 L83.78 916.27 L84.25 916.74 L84.77 917.22 L85.32 917.69 L85.87 918.16 L86.45 918.63 L87.07 919.1 L87.71 919.57 L88.36 920.05 L89.01 920.52 L89.66 920.99 L90.35 921.46 L91.07 921.93 L91.78 922.4 L92.45 922.88 L93.04 923.35 L93.52 923.82 L93.91 924.29 L94.27 924.76 L94.6 925.23 L94.89 925.71 L95.15 926.18 L95.38 926.65 L95.58 927.12 L95.75 927.59 L95.9 928.06 L96.05 928.54 L96.2 929.01 L96.36 929.48 L96.52 929.95 L96.67 930.42 L96.81 930.89 L96.95 931.37 L97.11 931.84 L97.31 932.31 L97.54 932.78 L97.84 933.25 L98.36 933.72 L99.18 934.2 L100.23 934.67 L101.44 935.14 L102.74 935.61 L104.07 936.08 L105.51 936.55 L107.29 937.03 L109.27 937.5 L111.29 937.97 L113.2 938.44 L114.85 938.91 L116.2 939.38 L117.58 939.86 L118.91 940.33 L120.09 940.8 L121 941.27 L121.52 941.74 L121.5 942.22 L120.63 942.69 L119.06 943.16 L117.04 943.63 L114.78 944.1 L112.53 944.57 L110.48 945.05 L108.27 945.52 L105.85 945.99 L103.36 946.46 L100.94 946.93 L98.71 947.4 L96.82 947.88 L95.09 948.35 L93.43 948.82 L91.87 949.29 L90.46 949.76 L89.24 950.23 L88.26 950.71 L87.49 951.18 L86.81 951.65 L86.19 952.12 L85.64 952.59 L85.15 953.06 L84.7 953.54 L84.3 954.01 L83.94 954.48 L83.61 954.95 L83.31 955.42 L83.03 955.89 L82.77 956.37 L82.53 956.84 L82.29 957.31 L82.07 957.78 L81.85 958.25 L81.64 958.72 L81.42 959.2 L81.22 959.67 L81.02 960.14 L80.83 960.61 L80.65 961.08 L80.45 961.55 L80.25 962.03 L80.08 962.5 L79.97 962.97 L79.87 963.44 L79.78 963.91 L79.71 964.38 L79.66 964.86 L79.66 965.33 L79.66 965.8 L79.54 965.8 L79.54 965.33 L79.54 964.86 L79.49 964.38 L79.42 963.91 L79.33 963.44 L79.23 962.97 L79.12 962.5 L78.95 962.03 L78.75 961.55 L78.55 961.08 L78.37 960.61 L78.18 960.14 L77.98 959.67 L77.78 959.2 L77.56 958.72 L77.35 958.25 L77.13 957.78 L76.91 957.31 L76.67 956.84 L76.43 956.37 L76.17 955.89 L75.89 955.42 L75.59 954.95 L75.26 954.48 L74.9 954.01 L74.5 953.54 L74.05 953.06 L73.56 952.59 L73.01 952.12 L72.39 951.65 L71.71 951.18 L70.94 950.71 L69.96 950.23 L68.74 949.76 L67.33 949.29 L65.77 948.82 L64.11 948.35 L62.38 947.88 L60.49 947.4 L58.26 946.93 L55.84 946.46 L53.35 945.99 L50.93 945.52 L48.72 945.05 L46.67 944.57 L44.42 944.1 L42.16 943.63 L40.14 943.16 L38.57 942.69 L37.7 942.22 L37.68 941.74 L38.2 941.27 L39.11 940.8 L40.29 940.33 L41.62 939.86 L43 939.38 L44.35 938.91 L46 938.44 L47.91 937.97 L49.93 937.5 L51.91 937.03 L53.69 936.55 L55.13 936.08 L56.46 935.61 L57.76 935.14 L58.97 934.67 L60.02 934.2 L60.84 933.72 L61.36 933.25 L61.66 932.78 L61.89 932.31 L62.09 931.84 L62.25 931.37 L62.39 930.89 L62.53 930.42 L62.68 929.95 L62.84 929.48 L63 929.01 L63.15 928.54 L63.3 928.06 L63.45 927.59 L63.62 927.12 L63.82 926.65 L64.05 926.18 L64.31 925.71 L64.6 925.23 L64.93 924.76 L65.29 924.29 L65.68 923.82 L66.16 923.35 L66.75 922.88 L67.42 922.4 L68.13 921.93 L68.85 921.46 L69.54 920.99 L70.19 920.52 L70.84 920.05 L71.49 919.57 L72.13 919.1 L72.75 918.63 L73.33 918.16 L73.88 917.69 L74.43 917.22 L74.95 916.74 L75.42 916.27 L75.82 915.8 L76.16 915.33 L76.48 914.86 L76.76 914.38 L77 913.91 L77.21 913.44 L77.38 912.97 L77.52 912.5 L77.64 912.03 L77.75 911.55 L77.85 911.08 L77.95 910.61 L78.05 910.14 L78.15 909.67 L78.28 909.2 L78.4 908.72 L78.51 908.25 L78.58 907.78 L78.6 907.31 L78.56 906.84 L78.49 906.37 L78.39 905.89 L78.29 905.42 L78.2 904.95 L78.13 904.48 L78.1 904.01 L78.1 903.54 L78.11 903.06 L78.13 902.59 L78.15 902.12 L78.18 901.65 L78.21 901.18 L78.24 900.71 L78.28 900.23 L78.31 899.76 L78.36 899.29 L78.41 898.82 L78.47 898.35 L78.54 897.88 L78.62 897.4 L78.69 896.93 L78.76 896.46 L78.83 895.99 L78.9 895.52 L78.96 895.05 L79.03 894.57 L79.1 894.1 L79.17 893.63 L79.24 893.16 L79.31 892.69 L79.38 892.22 L79.45 891.74 L79.53 891.27 L79.54 890.8 Z" fill="#FF0000" stroke="#000" stroke-width="0.75" stroke-linejoin="round"/>
<line x1="79.6" y1="915.2" x2="79.6" y2="932.2" stroke="#000" stroke-width="0.75"/>
<line x1="79.6" y1="944" x2="79.6" y2="955.8" stroke="#000" stroke-width="0.75"/>
<rect x="71.2" y="932.2" width="16.8" height="11.8" fill="#fff" stroke="#000" stroke-width="0.6"/>
<line x1="71.2" y1="940.3" x2="88" y2="940.3" stroke="#000" stroke-width="0.9"/>
<circle cx="79.6" cy="900.3" r="1.2" fill="#000"/>
<circle cx="79.6" cy="905.3" r="1.2" fill="#000"/>
<path d="M163.16 882.6 L163.25 883.35 L163.39 884.1 L163.53 884.86 L163.66 885.61 L163.77 886.36 L163.88 887.11 L163.98 887.87 L164.06 888.62 L164.14 889.37 L164.21 890.12 L164.29 890.87 L164.35 891.63 L164.39 892.38 L164.4 893.13 L164.38 893.88 L164.33 894.64 L164.27 895.39 L164.22 896.14 L164.2 896.89 L164.21 897.64 L164.24 898.4 L164.28 899.15 L164.33 899.9 L164.38 900.65 L164.42 901.41 L164.45 902.16 L164.48 902.91 L164.52 903.66 L164.56 904.41 L164.61 905.17 L164.7 905.92 L164.82 906.67 L164.98 907.42 L165.2 908.17 L165.69 908.93 L166.34 909.68 L167.01 910.43 L167.57 911.18 L168.06 911.94 L168.55 912.69 L169.05 913.44 L169.58 914.19 L170.13 914.94 L170.71 915.7 L171.3 916.45 L171.93 917.2 L172.62 917.95 L173.31 918.71 L173.9 919.46 L174.36 920.21 L174.74 920.96 L175.09 921.71 L175.48 922.47 L175.92 923.22 L176.37 923.97 L176.85 924.72 L177.35 925.48 L177.86 926.23 L178.39 926.98 L178.96 927.73 L179.57 928.48 L180.22 929.24 L180.92 929.99 L181.71 930.74 L182.67 931.49 L183.93 932.25 L185.42 933 L186.99 933.75 L188.51 934.5 L190.1 935.25 L191.71 936.01 L193.2 936.76 L194.53 937.51 L195.95 938.26 L197.17 939.02 L197.85 939.77 L197.6 940.52 L196.28 941.27 L194.34 942.02 L192.21 942.78 L190.04 943.53 L187.41 944.28 L184.54 945.03 L181.71 945.78 L178.96 946.54 L176.1 947.29 L173.4 948.04 L171.12 948.79 L169.22 949.55 L167.59 950.3 L166.33 951.05 L165.35 951.8 L164.57 952.55 L164.04 953.31 L163.66 954.06 L163.42 954.81 L163.37 955.56 L163.33 956.32 L163.29 957.07 L163.26 957.82 L163.24 958.57 L163.22 959.32 L163.21 960.08 L163.2 960.83 L163.2 961.58 L163.25 962.33 L163.62 963.09 L163.97 963.84 L164.07 964.59 L164.14 965.34 L164.2 966.09 L164.24 966.85 L164.28 967.6 L164.29 968.35 L164.3 969.1 L164.29 969.86 L164.26 970.61 L164.22 971.36 L164.16 972.11 L164.09 972.86 L164.01 973.62 L163.8 974.37 L163.44 975.12 L163.21 975.87 L163.2 976.63 L163.2 977.38 L163.2 978.13 L163.2 978.88 L163.2 979.63 L163.2 980.39 L163.2 981.14 L163.2 981.89 L163.2 982.64 L163.2 983.39 L163.2 984.15 L163.2 984.9 L163.38 985.65 L163.79 986.4 L164.02 987.16 L164.11 987.91 L164.19 988.66 L164.25 989.41 L164.29 990.16 L164.3 990.92 L164.29 991.67 L164.26 992.42 L164.22 993.17 L164.15 993.93 L164.07 994.68 L163.98 995.43 L163.69 996.18 L163.33 996.93 L163.19 997.69 L163.16 998.44 L163.16 999.19 L163.16 999.94 L163.16 1000.7 L163.16 1001.45 L163.16 1002.2 L163.04 1002.2 L163.04 1001.45 L163.04 1000.7 L163.04 999.94 L163.04 999.19 L163.04 998.44 L163.01 997.69 L162.87 996.93 L162.51 996.18 L162.22 995.43 L162.13 994.68 L162.05 993.93 L161.98 993.17 L161.94 992.42 L161.91 991.67 L161.9 990.92 L161.91 990.16 L161.95 989.41 L162.01 988.66 L162.09 987.91 L162.18 987.16 L162.41 986.4 L162.82 985.65 L163 984.9 L163 984.15 L163 983.39 L163 982.64 L163 981.89 L163 981.14 L163 980.39 L163 979.63 L163 978.88 L163 978.13 L163 977.38 L163 976.63 L162.99 975.87 L162.76 975.12 L162.4 974.37 L162.19 973.62 L162.11 972.86 L162.04 972.11 L161.98 971.36 L161.94 970.61 L161.91 969.86 L161.9 969.1 L161.91 968.35 L161.92 967.6 L161.96 966.85 L162 966.09 L162.06 965.34 L162.13 964.59 L162.23 963.84 L162.58 963.09 L162.95 962.33 L163 961.58 L163 960.83 L162.99 960.08 L162.98 959.32 L162.96 958.57 L162.94 957.82 L162.91 957.07 L162.87 956.32 L162.83 955.56 L162.78 954.81 L162.54 954.06 L162.16 953.31 L161.63 952.55 L160.85 951.8 L159.87 951.05 L158.61 950.3 L156.98 949.55 L155.08 948.79 L152.8 948.04 L150.1 947.29 L147.24 946.54 L144.49 945.78 L141.66 945.03 L138.79 944.28 L136.16 943.53 L133.99 942.78 L131.86 942.02 L129.92 941.27 L128.6 940.52 L128.35 939.77 L129.03 939.02 L130.25 938.26 L131.67 937.51 L133 936.76 L134.49 936.01 L136.1 935.25 L137.69 934.5 L139.21 933.75 L140.78 933 L142.27 932.25 L143.53 931.49 L144.49 930.74 L145.28 929.99 L145.98 929.24 L146.63 928.48 L147.24 927.73 L147.81 926.98 L148.34 926.23 L148.85 925.48 L149.35 924.72 L149.83 923.97 L150.28 923.22 L150.72 922.47 L151.11 921.71 L151.46 920.96 L151.84 920.21 L152.3 919.46 L152.89 918.71 L153.58 917.95 L154.27 917.2 L154.9 916.45 L155.49 915.7 L156.07 914.94 L156.62 914.19 L157.15 913.44 L157.65 912.69 L158.14 911.94 L158.63 911.18 L159.19 910.43 L159.86 909.68 L160.51 908.93 L161 908.17 L161.22 907.42 L161.38 906.67 L161.5 905.92 L161.59 905.17 L161.64 904.41 L161.68 903.66 L161.72 902.91 L161.75 902.16 L161.78 901.41 L161.82 900.65 L161.87 899.9 L161.92 899.15 L161.96 898.4 L161.99 897.64 L162 896.89 L161.98 896.14 L161.93 895.39 L161.87 894.64 L161.82 893.88 L161.8 893.13 L161.81 892.38 L161.85 891.63 L161.91 890.87 L161.99 890.12 L162.06 889.37 L162.14 888.62 L162.22 887.87 L162.32 887.11 L162.43 886.36 L162.54 885.61 L162.67 884.86 L162.81 884.1 L162.95 883.35 L163.04 882.6 Z" fill="#0000FF" stroke="#000" stroke-width="0.75" stroke-linejoin="round"/>
<line x1="163.1" y1="912.3" x2="163.1" y2="927.9" stroke="#000" stroke-width="0.75"/>
<line x1="163.1" y1="941.1" x2="163.1" y2="945.3" stroke="#000" stroke-width="0.75"/>
<rect x="154.7" y="927.9" width="16.8" height="13.2" fill="#fff" stroke="#000" stroke-width="0.6"/>
<line x1="154.7" y1="936.4" x2="171.5" y2="936.4" stroke="#000" stroke-width="0.9"/>
<circle cx="163.1" cy="893.4" r="1.2" fill="#000"/>
<circle cx="163.1" cy="901.6" r="1.2" fill="#000"/>
<circle cx="163.1" cy="905.4" r="1.2" fill="#000"/>
<circle cx="163.1" cy="969.3" r="1.2" fill="#000"/>
<circle cx="163.1" cy="990.8" r="1.2" fill="#000"/>
<path d="M79.5 840.55 V836.05 H163.2 V840.55" fill="none" stroke="#000" stroke-width="1.0"/>
<text x="121.35" y="834.45" font-size="5.2" text-anchor="middle" fill="#000" stroke="#000" stroke-width="0.1">0.005</text>
<text x="258.8" y="6.2" font-size="6.5" text-anchor="start" fill="#000" stroke="#000" stroke-width="0.1">B</text>
<path d="M259 126.4 L259 177.6 L259.4 177 L264 174 L269.6 171.1 L284.2 167.4 L298.8 164.5 L313.4 161.6 L323.6 158 L333.8 152.8 L338.2 148.5 L342.6 141.2 L346.2 133.1 L349.2 126.6 L349.6 126.4 L349.6 126.4 Z" fill="#FF1493"/>
<path d="M349.6 126.4 L349.6 126.3 L359.6 124.9 L374.2 124.2 L388.8 123 L403.4 122.3 L418 121.3 L428.2 120.1 L432.6 119.1 L435.5 117.6 L438.4 114 L440.6 110.3 L442.4 107 L442.4 126.4 Z" fill="#40E0D0"/>
<line x1="269.6" y1="35.1" x2="269.6" y2="217.4" stroke="#fff" stroke-width="1.2" stroke-opacity="0.42"/>
<line x1="280.2" y1="35.1" x2="280.2" y2="217.4" stroke="#fff" stroke-width="1.2" stroke-opacity="0.42"/>
<line x1="290.8" y1="35.1" x2="290.8" y2="217.4" stroke="#fff" stroke-width="1.2" stroke-opacity="0.42"/>
<line x1="301.4" y1="35.1" x2="301.4" y2="217.4" stroke="#fff" stroke-width="1.2" stroke-opacity="0.42"/>
<line x1="312" y1="35.1" x2="312" y2="217.4" stroke="#fff" stroke-width="1.2" stroke-opacity="0.42"/>
<line x1="322.6" y1="35.1" x2="322.6" y2="217.4" stroke="#fff" stroke-width="1.2" stroke-opacity="0.42"/>
<line x1="333.2" y1="35.1" x2="333.2" y2="217.4" stroke="#fff" stroke-width="1.2" stroke-opacity="0.42"/>
<line x1="343.8" y1="35.1" x2="343.8" y2="217.4" stroke="#fff" stroke-width="1.2" stroke-opacity="0.42"/>
<line x1="354.4" y1="35.1" x2="354.4" y2="217.4" stroke="#fff" stroke-width="1.2" stroke-opacity="0.42"/>
<line x1="365" y1="35.1" x2="365" y2="217.4" stroke="#fff" stroke-width="1.2" stroke-opacity="0.42"/>
<line x1="375.6" y1="35.1" x2="375.6" y2="217.4" stroke="#fff" stroke-width="1.2" stroke-opacity="0.42"/>
<line x1="386.2" y1="35.1" x2="386.2" y2="217.4" stroke="#fff" stroke-width="1.2" stroke-opacity="0.42"/>
<line x1="396.8" y1="35.1" x2="396.8" y2="217.4" stroke="#fff" stroke-width="1.2" stroke-opacity="0.42"/>
<line x1="407.4" y1="35.1" x2="407.4" y2="217.4" stroke="#fff" stroke-width="1.2" stroke-opacity="0.42"/>
<line x1="418" y1="35.1" x2="418" y2="217.4" stroke="#fff" stroke-width="1.2" stroke-opacity="0.42"/>
<line x1="428.6" y1="35.1" x2="428.6" y2="217.4" stroke="#fff" stroke-width="1.2" stroke-opacity="0.42"/>
<line x1="439.2" y1="35.1" x2="439.2" y2="217.4" stroke="#fff" stroke-width="1.2" stroke-opacity="0.42"/>
<rect x="259" y="35.1" width="183.4" height="182.3" fill="none" stroke="#333" stroke-width="0.8"/>
<line x1="255.6" y1="43.2" x2="259" y2="43.2" stroke="#111" stroke-width="0.9"/>
<text x="255.2" y="45.5" font-size="6.3" text-anchor="end" font-weight="bold" fill="#111" stroke="#111" stroke-width="0.22">0.2</text>
<line x1="255.6" y1="84.8" x2="259" y2="84.8" stroke="#111" stroke-width="0.9"/>
<text x="255.2" y="87.1" font-size="6.3" text-anchor="end" font-weight="bold" fill="#111" stroke="#111" stroke-width="0.22">0.1</text>
<line x1="255.6" y1="126.4" x2="259" y2="126.4" stroke="#111" stroke-width="0.9"/>
<text x="255.2" y="128.7" font-size="6.3" text-anchor="end" font-weight="bold" fill="#111" stroke="#111" stroke-width="0.22">0.0</text>
<line x1="255.6" y1="168" x2="259" y2="168" stroke="#111" stroke-width="0.9"/>
<text x="255.2" y="170.3" font-size="6.3" text-anchor="end" font-weight="bold" fill="#111" stroke="#111" stroke-width="0.22">−0.1</text>
<line x1="255.6" y1="209.6" x2="259" y2="209.6" stroke="#111" stroke-width="0.9"/>
<text x="255.2" y="211.9" font-size="6.3" text-anchor="end" font-weight="bold" fill="#111" stroke="#111" stroke-width="0.22">−0.2</text>
<text x="236.9" y="126.2" font-size="7" text-anchor="middle" font-weight="bold" fill="#111" transform="rotate(-90 236.9 126.2)" stroke="#111" stroke-width="0.22">TIDE score</text>
<rect x="407.6" y="47.4" width="11.4" height="8.3" fill="#FF1493"/>
<rect x="407.6" y="55.8" width="11.4" height="8.3" fill="#40E0D0"/>
<text x="422.3" y="53.7" font-size="5.2" text-anchor="start" fill="#000" stroke="#000" stroke-width="0.22">R</text>
<text x="422.3" y="62.2" font-size="5.2" text-anchor="start" fill="#000" stroke="#000" stroke-width="0.22">NR</text>
<text x="258.8" y="270.55" font-size="6.5" text-anchor="start" fill="#000" stroke="#000" stroke-width="0.1">E</text>
<path d="M259 374.4 L259 474.5 L259.4 473.6 L260.8 469.3 L263.8 465.6 L268.1 461.2 L271 457.3 L276.9 456.1 L284.2 454.7 L291.5 451.8 L298.8 450.3 L306.1 448.8 L313.4 447.4 L319.2 445.9 L322.2 443.7 L328 441.5 L333.8 439.3 L338.2 435.7 L342.6 428.4 L345.5 418.2 L347.7 406.5 L349.2 391.9 L350.6 377.3 L352.1 375.6 L370 375.4 L399 374.6 L399 374.4 Z" fill="#FF1493"/>
<path d="M409 374.4 L409 374.3 L420 373.4 L430 372.5 L434 372 L437 370.5 L439 369 L441 365 L442.4 361 L442.4 374.4 Z" fill="#40E0D0"/>
<line x1="262.3" y1="299.45" x2="262.3" y2="481.75" stroke="#fff" stroke-width="0.5" stroke-opacity="0.3"/>
<line x1="265.6" y1="299.45" x2="265.6" y2="481.75" stroke="#fff" stroke-width="0.5" stroke-opacity="0.3"/>
<line x1="268.9" y1="299.45" x2="268.9" y2="481.75" stroke="#fff" stroke-width="0.5" stroke-opacity="0.3"/>
<line x1="272.2" y1="299.45" x2="272.2" y2="481.75" stroke="#fff" stroke-width="0.5" stroke-opacity="0.3"/>
<line x1="275.5" y1="299.45" x2="275.5" y2="481.75" stroke="#fff" stroke-width="0.5" stroke-opacity="0.3"/>
<line x1="278.8" y1="299.45" x2="278.8" y2="481.75" stroke="#fff" stroke-width="0.5" stroke-opacity="0.3"/>
<line x1="282.1" y1="299.45" x2="282.1" y2="481.75" stroke="#fff" stroke-width="0.5" stroke-opacity="0.3"/>
<line x1="285.4" y1="299.45" x2="285.4" y2="481.75" stroke="#fff" stroke-width="0.5" stroke-opacity="0.3"/>
<line x1="288.7" y1="299.45" x2="288.7" y2="481.75" stroke="#fff" stroke-width="0.5" stroke-opacity="0.3"/>
<line x1="292" y1="299.45" x2="292" y2="481.75" stroke="#fff" stroke-width="0.5" stroke-opacity="0.3"/>
<line x1="295.3" y1="299.45" x2="295.3" y2="481.75" stroke="#fff" stroke-width="0.5" stroke-opacity="0.3"/>
<line x1="298.6" y1="299.45" x2="298.6" y2="481.75" stroke="#fff" stroke-width="0.5" stroke-opacity="0.3"/>
<line x1="301.9" y1="299.45" x2="301.9" y2="481.75" stroke="#fff" stroke-width="0.5" stroke-opacity="0.3"/>
<line x1="305.2" y1="299.45" x2="305.2" y2="481.75" stroke="#fff" stroke-width="0.5" stroke-opacity="0.3"/>
<line x1="308.5" y1="299.45" x2="308.5" y2="481.75" stroke="#fff" stroke-width="0.5" stroke-opacity="0.3"/>
<line x1="311.8" y1="299.45" x2="311.8" y2="481.75" stroke="#fff" stroke-width="0.5" stroke-opacity="0.3"/>
<line x1="315.1" y1="299.45" x2="315.1" y2="481.75" stroke="#fff" stroke-width="0.5" stroke-opacity="0.3"/>
<line x1="318.4" y1="299.45" x2="318.4" y2="481.75" stroke="#fff" stroke-width="0.5" stroke-opacity="0.3"/>
<line x1="321.7" y1="299.45" x2="321.7" y2="481.75" stroke="#fff" stroke-width="0.5" stroke-opacity="0.3"/>
<line x1="325" y1="299.45" x2="325" y2="481.75" stroke="#fff" stroke-width="0.5" stroke-opacity="0.3"/>
<line x1="328.3" y1="299.45" x2="328.3" y2="481.75" stroke="#fff" stroke-width="0.5" stroke-opacity="0.3"/>
<line x1="331.6" y1="299.45" x2="331.6" y2="481.75" stroke="#fff" stroke-width="0.5" stroke-opacity="0.3"/>
<line x1="334.9" y1="299.45" x2="334.9" y2="481.75" stroke="#fff" stroke-width="0.5" stroke-opacity="0.3"/>
<line x1="338.2" y1="299.45" x2="338.2" y2="481.75" stroke="#fff" stroke-width="0.5" stroke-opacity="0.3"/>
<line x1="341.5" y1="299.45" x2="341.5" y2="481.75" stroke="#fff" stroke-width="0.5" stroke-opacity="0.3"/>
<line x1="344.8" y1="299.45" x2="344.8" y2="481.75" stroke="#fff" stroke-width="0.5" stroke-opacity="0.3"/>
<line x1="348.1" y1="299.45" x2="348.1" y2="481.75" stroke="#fff" stroke-width="0.5" stroke-opacity="0.3"/>
<line x1="351.4" y1="299.45" x2="351.4" y2="481.75" stroke="#fff" stroke-width="0.5" stroke-opacity="0.3"/>
<line x1="354.7" y1="299.45" x2="354.7" y2="481.75" stroke="#fff" stroke-width="0.5" stroke-opacity="0.3"/>
<line x1="358" y1="299.45" x2="358" y2="481.75" stroke="#fff" stroke-width="0.5" stroke-opacity="0.3"/>
<line x1="361.3" y1="299.45" x2="361.3" y2="481.75" stroke="#fff" stroke-width="0.5" stroke-opacity="0.3"/>
<line x1="364.6" y1="299.45" x2="364.6" y2="481.75" stroke="#fff" stroke-width="0.5" stroke-opacity="0.3"/>
<line x1="367.9" y1="299.45" x2="367.9" y2="481.75" stroke="#fff" stroke-width="0.5" stroke-opacity="0.3"/>
<line x1="371.2" y1="299.45" x2="371.2" y2="481.75" stroke="#fff" stroke-width="0.5" stroke-opacity="0.3"/>
<line x1="374.5" y1="299.45" x2="374.5" y2="481.75" stroke="#fff" stroke-width="0.5" stroke-opacity="0.3"/>
<line x1="377.8" y1="299.45" x2="377.8" y2="481.75" stroke="#fff" stroke-width="0.5" stroke-opacity="0.3"/>
<line x1="381.1" y1="299.45" x2="381.1" y2="481.75" stroke="#fff" stroke-width="0.5" stroke-opacity="0.3"/>
<line x1="384.4" y1="299.45" x2="384.4" y2="481.75" stroke="#fff" stroke-width="0.5" stroke-opacity="0.3"/>
<line x1="387.7" y1="299.45" x2="387.7" y2="481.75" stroke="#fff" stroke-width="0.5" stroke-opacity="0.3"/>
<line x1="391" y1="299.45" x2="391" y2="481.75" stroke="#fff" stroke-width="0.5" stroke-opacity="0.3"/>
<line x1="394.3" y1="299.45" x2="394.3" y2="481.75" stroke="#fff" stroke-width="0.5" stroke-opacity="0.3"/>
<line x1="397.6" y1="299.45" x2="397.6" y2="481.75" stroke="#fff" stroke-width="0.5" stroke-opacity="0.3"/>
<line x1="400.9" y1="299.45" x2="400.9" y2="481.75" stroke="#fff" stroke-width="0.5" stroke-opacity="0.3"/>
<line x1="404.2" y1="299.45" x2="404.2" y2="481.75" stroke="#fff" stroke-width="0.5" stroke-opacity="0.3"/>
<line x1="407.5" y1="299.45" x2="407.5" y2="481.75" stroke="#fff" stroke-width="0.5" stroke-opacity="0.3"/>
<line x1="410.8" y1="299.45" x2="410.8" y2="481.75" stroke="#fff" stroke-width="0.5" stroke-opacity="0.3"/>
<line x1="414.1" y1="299.45" x2="414.1" y2="481.75" stroke="#fff" stroke-width="0.5" stroke-opacity="0.3"/>
<line x1="417.4" y1="299.45" x2="417.4" y2="481.75" stroke="#fff" stroke-width="0.5" stroke-opacity="0.3"/>
<line x1="420.7" y1="299.45" x2="420.7" y2="481.75" stroke="#fff" stroke-width="0.5" stroke-opacity="0.3"/>
<line x1="424" y1="299.45" x2="424" y2="481.75" stroke="#fff" stroke-width="0.5" stroke-opacity="0.3"/>
<line x1="427.3" y1="299.45" x2="427.3" y2="481.75" stroke="#fff" stroke-width="0.5" stroke-opacity="0.3"/>
<line x1="430.6" y1="299.45" x2="430.6" y2="481.75" stroke="#fff" stroke-width="0.5" stroke-opacity="0.3"/>
<line x1="433.9" y1="299.45" x2="433.9" y2="481.75" stroke="#fff" stroke-width="0.5" stroke-opacity="0.3"/>
<line x1="437.2" y1="299.45" x2="437.2" y2="481.75" stroke="#fff" stroke-width="0.5" stroke-opacity="0.3"/>
<line x1="440.5" y1="299.45" x2="440.5" y2="481.75" stroke="#fff" stroke-width="0.5" stroke-opacity="0.3"/>
<line x1="259" y1="441.5" x2="442.4" y2="441.5" stroke="#fff" stroke-width="0.6" stroke-dasharray="2.4 1.6"/>
<rect x="259" y="299.45" width="183.4" height="182.3" fill="none" stroke="#333" stroke-width="0.8"/>
<line x1="255.6" y1="307.6" x2="259" y2="307.6" stroke="#111" stroke-width="0.9"/>
<text x="255.2" y="309.9" font-size="6.3" text-anchor="end" font-weight="bold" fill="#111" stroke="#111" stroke-width="0.22">0.2</text>
<line x1="255.6" y1="341" x2="259" y2="341" stroke="#111" stroke-width="0.9"/>
<text x="255.2" y="343.3" font-size="6.3" text-anchor="end" font-weight="bold" fill="#111" stroke="#111" stroke-width="0.22">0.1</text>
<line x1="255.6" y1="374.4" x2="259" y2="374.4" stroke="#111" stroke-width="0.9"/>
<text x="255.2" y="376.7" font-size="6.3" text-anchor="end" font-weight="bold" fill="#111" stroke="#111" stroke-width="0.22">0.0</text>
<line x1="255.6" y1="407.8" x2="259" y2="407.8" stroke="#111" stroke-width="0.9"/>
<text x="255.2" y="410.1" font-size="6.3" text-anchor="end" font-weight="bold" fill="#111" stroke="#111" stroke-width="0.22">−0.1</text>
<line x1="255.6" y1="441.2" x2="259" y2="441.2" stroke="#111" stroke-width="0.9"/>
<text x="255.2" y="443.5" font-size="6.3" text-anchor="end" font-weight="bold" fill="#111" stroke="#111" stroke-width="0.22">−0.2</text>
<line x1="255.6" y1="474.6" x2="259" y2="474.6" stroke="#111" stroke-width="0.9"/>
<text x="255.2" y="476.9" font-size="6.3" text-anchor="end" font-weight="bold" fill="#111" stroke="#111" stroke-width="0.22">−0.3</text>
<text x="236.9" y="390.55" font-size="7" text-anchor="middle" font-weight="bold" fill="#111" transform="rotate(-90 236.9 390.55)" stroke="#111" stroke-width="0.22">TIDE score</text>
<rect x="407.6" y="311.75" width="11.4" height="8.3" fill="#FF1493"/>
<rect x="407.6" y="320.15" width="11.4" height="8.3" fill="#40E0D0"/>
<text x="422.3" y="318.05" font-size="5.2" text-anchor="start" fill="#000" stroke="#000" stroke-width="0.22">R</text>
<text x="422.3" y="326.55" font-size="5.2" text-anchor="start" fill="#000" stroke="#000" stroke-width="0.22">NR</text>
<text x="258.8" y="534.9" font-size="6.5" text-anchor="start" fill="#000" stroke="#000" stroke-width="0.1">H</text>
<path d="M259 644 L259 738 L259.4 737.2 L260.1 727 L262.3 723.4 L266 720.4 L269.6 715.3 L270.3 711 L274.7 708 L276.9 700 L280.5 697 L282 693.4 L286.4 689.8 L288.6 686.1 L290 675.9 L293 670.8 L298.8 665 L304.6 661.3 L309 653.3 L311.9 650.4 L316.3 647.4 L320 643.8 L320 644 Z" fill="#FF1493"/>
<path d="M320.2 644 L320.2 643.8 L322.2 637.2 L325.1 635 L328 631.4 L330.9 627 L334.6 625.5 L336 620.4 L338.2 619 L342.6 617.5 L349.9 615.8 L356 614.2 L370 612 L380 611 L390 608.6 L400 607.4 L410 605.4 L420 602 L428 599 L432 595 L436 591 L440 586 L442.4 583 L442.4 644 Z" fill="#40E0D0"/>
<line x1="263.4" y1="563.8" x2="263.4" y2="746.1" stroke="#fff" stroke-width="0.6" stroke-opacity="0.35"/>
<line x1="267.8" y1="563.8" x2="267.8" y2="746.1" stroke="#fff" stroke-width="0.6" stroke-opacity="0.35"/>
<line x1="272.2" y1="563.8" x2="272.2" y2="746.1" stroke="#fff" stroke-width="0.6" stroke-opacity="0.35"/>
<line x1="276.6" y1="563.8" x2="276.6" y2="746.1" stroke="#fff" stroke-width="0.6" stroke-opacity="0.35"/>
<line x1="281" y1="563.8" x2="281" y2="746.1" stroke="#fff" stroke-width="0.6" stroke-opacity="0.35"/>
<line x1="285.4" y1="563.8" x2="285.4" y2="746.1" stroke="#fff" stroke-width="0.6" stroke-opacity="0.35"/>
<line x1="289.8" y1="563.8" x2="289.8" y2="746.1" stroke="#fff" stroke-width="0.6" stroke-opacity="0.35"/>
<line x1="294.2" y1="563.8" x2="294.2" y2="746.1" stroke="#fff" stroke-width="0.6" stroke-opacity="0.35"/>
<line x1="298.6" y1="563.8" x2="298.6" y2="746.1" stroke="#fff" stroke-width="0.6" stroke-opacity="0.35"/>
<line x1="303" y1="563.8" x2="303" y2="746.1" stroke="#fff" stroke-width="0.6" stroke-opacity="0.35"/>
<line x1="307.4" y1="563.8" x2="307.4" y2="746.1" stroke="#fff" stroke-width="0.6" stroke-opacity="0.35"/>
<line x1="311.8" y1="563.8" x2="311.8" y2="746.1" stroke="#fff" stroke-width="0.6" stroke-opacity="0.35"/>
<line x1="316.2" y1="563.8" x2="316.2" y2="746.1" stroke="#fff" stroke-width="0.6" stroke-opacity="0.35"/>
<line x1="320.6" y1="563.8" x2="320.6" y2="746.1" stroke="#fff" stroke-width="0.6" stroke-opacity="0.35"/>
<line x1="325" y1="563.8" x2="325" y2="746.1" stroke="#fff" stroke-width="0.6" stroke-opacity="0.35"/>
<line x1="329.4" y1="563.8" x2="329.4" y2="746.1" stroke="#fff" stroke-width="0.6" stroke-opacity="0.35"/>
<line x1="333.8" y1="563.8" x2="333.8" y2="746.1" stroke="#fff" stroke-width="0.6" stroke-opacity="0.35"/>
<line x1="338.2" y1="563.8" x2="338.2" y2="746.1" stroke="#fff" stroke-width="0.6" stroke-opacity="0.35"/>
<line x1="342.6" y1="563.8" x2="342.6" y2="746.1" stroke="#fff" stroke-width="0.6" stroke-opacity="0.35"/>
<line x1="347" y1="563.8" x2="347" y2="746.1" stroke="#fff" stroke-width="0.6" stroke-opacity="0.35"/>
<line x1="351.4" y1="563.8" x2="351.4" y2="746.1" stroke="#fff" stroke-width="0.6" stroke-opacity="0.35"/>
<line x1="355.8" y1="563.8" x2="355.8" y2="746.1" stroke="#fff" stroke-width="0.6" stroke-opacity="0.35"/>
<line x1="360.2" y1="563.8" x2="360.2" y2="746.1" stroke="#fff" stroke-width="0.6" stroke-opacity="0.35"/>
<line x1="364.6" y1="563.8" x2="364.6" y2="746.1" stroke="#fff" stroke-width="0.6" stroke-opacity="0.35"/>
<line x1="369" y1="563.8" x2="369" y2="746.1" stroke="#fff" stroke-width="0.6" stroke-opacity="0.35"/>
<line x1="373.4" y1="563.8" x2="373.4" y2="746.1" stroke="#fff" stroke-width="0.6" stroke-opacity="0.35"/>
<line x1="377.8" y1="563.8" x2="377.8" y2="746.1" stroke="#fff" stroke-width="0.6" stroke-opacity="0.35"/>
<line x1="382.2" y1="563.8" x2="382.2" y2="746.1" stroke="#fff" stroke-width="0.6" stroke-opacity="0.35"/>
<line x1="386.6" y1="563.8" x2="386.6" y2="746.1" stroke="#fff" stroke-width="0.6" stroke-opacity="0.35"/>
<line x1="391" y1="563.8" x2="391" y2="746.1" stroke="#fff" stroke-width="0.6" stroke-opacity="0.35"/>
<line x1="395.4" y1="563.8" x2="395.4" y2="746.1" stroke="#fff" stroke-width="0.6" stroke-opacity="0.35"/>
<line x1="399.8" y1="563.8" x2="399.8" y2="746.1" stroke="#fff" stroke-width="0.6" stroke-opacity="0.35"/>
<line x1="404.2" y1="563.8" x2="404.2" y2="746.1" stroke="#fff" stroke-width="0.6" stroke-opacity="0.35"/>
<line x1="408.6" y1="563.8" x2="408.6" y2="746.1" stroke="#fff" stroke-width="0.6" stroke-opacity="0.35"/>
<line x1="413" y1="563.8" x2="413" y2="746.1" stroke="#fff" stroke-width="0.6" stroke-opacity="0.35"/>
<line x1="417.4" y1="563.8" x2="417.4" y2="746.1" stroke="#fff" stroke-width="0.6" stroke-opacity="0.35"/>
<line x1="421.8" y1="563.8" x2="421.8" y2="746.1" stroke="#fff" stroke-width="0.6" stroke-opacity="0.35"/>
<line x1="426.2" y1="563.8" x2="426.2" y2="746.1" stroke="#fff" stroke-width="0.6" stroke-opacity="0.35"/>
<line x1="430.6" y1="563.8" x2="430.6" y2="746.1" stroke="#fff" stroke-width="0.6" stroke-opacity="0.35"/>
<line x1="435" y1="563.8" x2="435" y2="746.1" stroke="#fff" stroke-width="0.6" stroke-opacity="0.35"/>
<line x1="439.4" y1="563.8" x2="439.4" y2="746.1" stroke="#fff" stroke-width="0.6" stroke-opacity="0.35"/>
<line x1="259" y1="716.4" x2="442.4" y2="716.4" stroke="#fff" stroke-width="0.6" stroke-dasharray="2.4 1.6"/>
<rect x="259" y="563.8" width="183.4" height="182.3" fill="none" stroke="#333" stroke-width="0.8"/>
<line x1="255.6" y1="572" x2="259" y2="572" stroke="#111" stroke-width="0.9"/>
<text x="255.2" y="574.3" font-size="6.3" text-anchor="end" font-weight="bold" fill="#111" stroke="#111" stroke-width="0.22">0.2</text>
<line x1="255.6" y1="608" x2="259" y2="608" stroke="#111" stroke-width="0.9"/>
<text x="255.2" y="610.3" font-size="6.3" text-anchor="end" font-weight="bold" fill="#111" stroke="#111" stroke-width="0.22">0.1</text>
<line x1="255.6" y1="644" x2="259" y2="644" stroke="#111" stroke-width="0.9"/>
<text x="255.2" y="646.3" font-size="6.3" text-anchor="end" font-weight="bold" fill="#111" stroke="#111" stroke-width="0.22">0.0</text>
<line x1="255.6" y1="680.2" x2="259" y2="680.2" stroke="#111" stroke-width="0.9"/>
<text x="255.2" y="682.5" font-size="6.3" text-anchor="end" font-weight="bold" fill="#111" stroke="#111" stroke-width="0.22">−0.1</text>
<line x1="255.6" y1="716.4" x2="259" y2="716.4" stroke="#111" stroke-width="0.9"/>
<text x="255.2" y="718.7" font-size="6.3" text-anchor="end" font-weight="bold" fill="#111" stroke="#111" stroke-width="0.22">−0.2</text>
<text x="236.9" y="654.9" font-size="7" text-anchor="middle" font-weight="bold" fill="#111" transform="rotate(-90 236.9 654.9)" stroke="#111" stroke-width="0.22">TIDE score</text>
<rect x="407.6" y="576.1" width="11.4" height="8.3" fill="#FF1493"/>
<rect x="407.6" y="584.5" width="11.4" height="8.3" fill="#40E0D0"/>
<text x="422.3" y="582.4" font-size="5.2" text-anchor="start" fill="#000" stroke="#000" stroke-width="0.22">R</text>
<text x="422.3" y="590.9" font-size="5.2" text-anchor="start" fill="#000" stroke="#000" stroke-width="0.22">NR</text>
<text x="258.8" y="799.25" font-size="6.5" text-anchor="start" fill="#000" stroke="#000" stroke-width="0.1">K</text>
<path d="M259 919.3 L259 934.6 L259.7 934.6 L260.2 929 L260.8 924.5 L262 922.6 L264.6 920.6 L264.6 919.3 Z" fill="#FF1493"/>
<path d="M265.2 919.3 L265.2 918.2 L269.6 917.6 L284.2 917.2 L298.8 916.9 L313.4 916.5 L328 916 L342.6 915.4 L355 915.1 L370 913.5 L390 912 L410 910.5 L422 908.5 L430 906.5 L436 904 L439 901 L442.4 898 L442.4 919.3 Z" fill="#40E0D0"/>
<line x1="264.5" y1="828.15" x2="264.5" y2="1010.45" stroke="#fff" stroke-width="0.9" stroke-opacity="0.6"/>
<line x1="269.61" y1="828.15" x2="269.61" y2="1010.45" stroke="#fff" stroke-width="0.9" stroke-opacity="0.6"/>
<line x1="274.72" y1="828.15" x2="274.72" y2="1010.45" stroke="#fff" stroke-width="0.9" stroke-opacity="0.6"/>
<line x1="279.83" y1="828.15" x2="279.83" y2="1010.45" stroke="#fff" stroke-width="0.9" stroke-opacity="0.6"/>
<line x1="284.94" y1="828.15" x2="284.94" y2="1010.45" stroke="#fff" stroke-width="0.9" stroke-opacity="0.6"/>
<line x1="290.05" y1="828.15" x2="290.05" y2="1010.45" stroke="#fff" stroke-width="0.9" stroke-opacity="0.6"/>
<line x1="295.16" y1="828.15" x2="295.16" y2="1010.45" stroke="#fff" stroke-width="0.9" stroke-opacity="0.6"/>
<line x1="300.27" y1="828.15" x2="300.27" y2="1010.45" stroke="#fff" stroke-width="0.9" stroke-opacity="0.6"/>
<line x1="305.38" y1="828.15" x2="305.38" y2="1010.45" stroke="#fff" stroke-width="0.9" stroke-opacity="0.6"/>
<line x1="310.49" y1="828.15" x2="310.49" y2="1010.45" stroke="#fff" stroke-width="0.9" stroke-opacity="0.6"/>
<line x1="315.6" y1="828.15" x2="315.6" y2="1010.45" stroke="#fff" stroke-width="0.9" stroke-opacity="0.6"/>
<line x1="320.71" y1="828.15" x2="320.71" y2="1010.45" stroke="#fff" stroke-width="0.9" stroke-opacity="0.6"/>
<line x1="325.82" y1="828.15" x2="325.82" y2="1010.45" stroke="#fff" stroke-width="0.9" stroke-opacity="0.6"/>
<line x1="330.93" y1="828.15" x2="330.93" y2="1010.45" stroke="#fff" stroke-width="0.9" stroke-opacity="0.6"/>
<line x1="336.04" y1="828.15" x2="336.04" y2="1010.45" stroke="#fff" stroke-width="0.9" stroke-opacity="0.6"/>
<line x1="341.15" y1="828.15" x2="341.15" y2="1010.45" stroke="#fff" stroke-width="0.9" stroke-opacity="0.6"/>
<line x1="346.26" y1="828.15" x2="346.26" y2="1010.45" stroke="#fff" stroke-width="0.9" stroke-opacity="0.6"/>
<line x1="351.37" y1="828.15" x2="351.37" y2="1010.45" stroke="#fff" stroke-width="0.9" stroke-opacity="0.6"/>
<line x1="356.48" y1="828.15" x2="356.48" y2="1010.45" stroke="#fff" stroke-width="0.9" stroke-opacity="0.6"/>
<line x1="361.59" y1="828.15" x2="361.59" y2="1010.45" stroke="#fff" stroke-width="0.9" stroke-opacity="0.6"/>
<line x1="366.7" y1="828.15" x2="366.7" y2="1010.45" stroke="#fff" stroke-width="0.9" stroke-opacity="0.6"/>
<line x1="371.81" y1="828.15" x2="371.81" y2="1010.45" stroke="#fff" stroke-width="0.9" stroke-opacity="0.6"/>
<line x1="376.92" y1="828.15" x2="376.92" y2="1010.45" stroke="#fff" stroke-width="0.9" stroke-opacity="0.6"/>
<line x1="382.03" y1="828.15" x2="382.03" y2="1010.45" stroke="#fff" stroke-width="0.9" stroke-opacity="0.6"/>
<line x1="387.14" y1="828.15" x2="387.14" y2="1010.45" stroke="#fff" stroke-width="0.9" stroke-opacity="0.6"/>
<line x1="392.25" y1="828.15" x2="392.25" y2="1010.45" stroke="#fff" stroke-width="0.9" stroke-opacity="0.6"/>
<line x1="397.36" y1="828.15" x2="397.36" y2="1010.45" stroke="#fff" stroke-width="0.9" stroke-opacity="0.6"/>
<line x1="402.47" y1="828.15" x2="402.47" y2="1010.45" stroke="#fff" stroke-width="0.9" stroke-opacity="0.6"/>
<line x1="407.58" y1="828.15" x2="407.58" y2="1010.45" stroke="#fff" stroke-width="0.9" stroke-opacity="0.6"/>
<line x1="412.69" y1="828.15" x2="412.69" y2="1010.45" stroke="#fff" stroke-width="0.9" stroke-opacity="0.6"/>
<line x1="417.8" y1="828.15" x2="417.8" y2="1010.45" stroke="#fff" stroke-width="0.9" stroke-opacity="0.6"/>
<line x1="422.91" y1="828.15" x2="422.91" y2="1010.45" stroke="#fff" stroke-width="0.9" stroke-opacity="0.6"/>
<line x1="428.02" y1="828.15" x2="428.02" y2="1010.45" stroke="#fff" stroke-width="0.9" stroke-opacity="0.6"/>
<line x1="433.13" y1="828.15" x2="433.13" y2="1010.45" stroke="#fff" stroke-width="0.9" stroke-opacity="0.6"/>
<line x1="438.24" y1="828.15" x2="438.24" y2="1010.45" stroke="#fff" stroke-width="0.9" stroke-opacity="0.6"/>
<rect x="259" y="828.15" width="183.4" height="182.3" fill="none" stroke="#333" stroke-width="0.8"/>
<line x1="255.6" y1="836" x2="259" y2="836" stroke="#111" stroke-width="0.9"/>
<text x="255.2" y="838.3" font-size="6.3" text-anchor="end" font-weight="bold" fill="#111" stroke="#111" stroke-width="0.22">0.2</text>
<line x1="255.6" y1="877.6" x2="259" y2="877.6" stroke="#111" stroke-width="0.9"/>
<text x="255.2" y="879.9" font-size="6.3" text-anchor="end" font-weight="bold" fill="#111" stroke="#111" stroke-width="0.22">0.1</text>
<line x1="255.6" y1="919.3" x2="259" y2="919.3" stroke="#111" stroke-width="0.9"/>
<text x="255.2" y="921.6" font-size="6.3" text-anchor="end" font-weight="bold" fill="#111" stroke="#111" stroke-width="0.22">0.0</text>
<line x1="255.6" y1="961" x2="259" y2="961" stroke="#111" stroke-width="0.9"/>
<text x="255.2" y="963.3" font-size="6.3" text-anchor="end" font-weight="bold" fill="#111" stroke="#111" stroke-width="0.22">−0.1</text>
<line x1="255.6" y1="1002.5" x2="259" y2="1002.5" stroke="#111" stroke-width="0.9"/>
<text x="255.2" y="1004.8" font-size="6.3" text-anchor="end" font-weight="bold" fill="#111" stroke="#111" stroke-width="0.22">−0.2</text>
<text x="236.9" y="919.25" font-size="7" text-anchor="middle" font-weight="bold" fill="#111" transform="rotate(-90 236.9 919.25)" stroke="#111" stroke-width="0.22">TIDE score</text>
<rect x="407.6" y="840.45" width="11.4" height="8.3" fill="#FF1493"/>
<rect x="407.6" y="848.85" width="11.4" height="8.3" fill="#40E0D0"/>
<text x="422.3" y="846.75" font-size="5.2" text-anchor="start" fill="#000" stroke="#000" stroke-width="0.22">R</text>
<text x="422.3" y="855.25" font-size="5.2" text-anchor="start" fill="#000" stroke="#000" stroke-width="0.22">NR</text>
<text x="467.6" y="6.2" font-size="6.5" text-anchor="start" fill="#000" stroke="#000" stroke-width="0.1">C</text>
<line x1="468.1" y1="188.6" x2="651.6" y2="188.6" stroke="#F2F2F2" stroke-width="0.4"/>
<line x1="468.1" y1="147" x2="651.6" y2="147" stroke="#F2F2F2" stroke-width="0.4"/>
<line x1="468.1" y1="105.4" x2="651.6" y2="105.4" stroke="#F2F2F2" stroke-width="0.4"/>
<line x1="468.1" y1="63.8" x2="651.6" y2="63.8" stroke="#F2F2F2" stroke-width="0.4"/>
<line x1="468.1" y1="209.4" x2="651.6" y2="209.4" stroke="#EBEBEB" stroke-width="0.6"/>
<line x1="468.1" y1="167.8" x2="651.6" y2="167.8" stroke="#EBEBEB" stroke-width="0.6"/>
<line x1="468.1" y1="126.2" x2="651.6" y2="126.2" stroke="#EBEBEB" stroke-width="0.6"/>
<line x1="468.1" y1="84.6" x2="651.6" y2="84.6" stroke="#EBEBEB" stroke-width="0.6"/>
<line x1="468.1" y1="43" x2="651.6" y2="43" stroke="#EBEBEB" stroke-width="0.6"/>
<line x1="517.8" y1="34.8" x2="517.8" y2="217.4" stroke="#EBEBEB" stroke-width="0.6"/>
<line x1="601.7" y1="34.8" x2="601.7" y2="217.4" stroke="#EBEBEB" stroke-width="0.6"/>
<rect x="480.1" y="43" width="75.5" height="102.67" fill="#40E0D0"/>
<rect x="480.1" y="145.67" width="75.5" height="63.73" fill="#FF1493"/>
<rect x="564" y="43" width="75.4" height="65.06" fill="#40E0D0"/>
<rect x="564" y="108.06" width="75.4" height="101.34" fill="#FF1493"/>
<rect x="468.1" y="34.8" width="183.5" height="182.6" fill="none" stroke="#999999" stroke-width="1.0"/>
<line x1="466.2" y1="209.4" x2="468.1" y2="209.4" stroke="#555" stroke-width="0.5"/>
<text x="465.8" y="210.9" font-size="4.4" text-anchor="end" fill="#4D4D4D" stroke="#4D4D4D" stroke-width="0.05">0.00</text>
<line x1="466.2" y1="167.8" x2="468.1" y2="167.8" stroke="#555" stroke-width="0.5"/>
<text x="465.8" y="169.3" font-size="4.4" text-anchor="end" fill="#4D4D4D" stroke="#4D4D4D" stroke-width="0.05">0.25</text>
<line x1="466.2" y1="126.2" x2="468.1" y2="126.2" stroke="#555" stroke-width="0.5"/>
<text x="465.8" y="127.7" font-size="4.4" text-anchor="end" fill="#4D4D4D" stroke="#4D4D4D" stroke-width="0.05">0.50</text>
<line x1="466.2" y1="84.6" x2="468.1" y2="84.6" stroke="#555" stroke-width="0.5"/>
<text x="465.8" y="86.1" font-size="4.4" text-anchor="end" fill="#4D4D4D" stroke="#4D4D4D" stroke-width="0.05">0.75</text>
<line x1="466.2" y1="43" x2="468.1" y2="43" stroke="#555" stroke-width="0.5"/>
<text x="465.8" y="44.5" font-size="4.4" text-anchor="end" fill="#4D4D4D" stroke="#4D4D4D" stroke-width="0.05">1.00</text>
<line x1="517.8" y1="217.4" x2="517.8" y2="219.2" stroke="#555" stroke-width="0.5"/>
<text x="517.8" y="223.6" font-size="4.5" text-anchor="middle" fill="#4D4D4D">high_risk</text>
<line x1="601.7" y1="217.4" x2="601.7" y2="219.2" stroke="#555" stroke-width="0.5"/>
<text x="601.7" y="223.6" font-size="4.5" text-anchor="middle" fill="#4D4D4D">low_risk</text>
<text x="454.4" y="126.2" font-size="5.4" text-anchor="middle" fill="#000" transform="rotate(-90 454.4 126.2)" stroke="#000" stroke-width="0.1">count</text>
<text x="559.8" y="232" font-size="5.4" text-anchor="middle" fill="#000" stroke="#000" stroke-width="0.1">X−squared = 16.263, df = 1, p−value = 5.643e−05</text>
<text x="659.8" y="119" font-size="5.3" text-anchor="start" fill="#000" stroke="#000" stroke-width="0.25">Response</text>
<rect x="660" y="122.2" width="8.2" height="7.6" fill="#40E0D0"/>
<rect x="660" y="130.6" width="8.2" height="7.6" fill="#FF1493"/>
<text x="670.8" y="127.7" font-size="4.4" text-anchor="start" fill="#000" stroke="#000" stroke-width="0.05">NR</text>
<text x="670.8" y="136.1" font-size="4.4" text-anchor="start" fill="#000" stroke="#000" stroke-width="0.05">R</text>
<text x="467.6" y="270.55" font-size="6.5" text-anchor="start" fill="#000" stroke="#000" stroke-width="0.1">F</text>
<line x1="468.1" y1="452.95" x2="651.6" y2="452.95" stroke="#F2F2F2" stroke-width="0.4"/>
<line x1="468.1" y1="411.35" x2="651.6" y2="411.35" stroke="#F2F2F2" stroke-width="0.4"/>
<line x1="468.1" y1="369.75" x2="651.6" y2="369.75" stroke="#F2F2F2" stroke-width="0.4"/>
<line x1="468.1" y1="328.15" x2="651.6" y2="328.15" stroke="#F2F2F2" stroke-width="0.4"/>
<line x1="468.1" y1="473.75" x2="651.6" y2="473.75" stroke="#EBEBEB" stroke-width="0.6"/>
<line x1="468.1" y1="432.15" x2="651.6" y2="432.15" stroke="#EBEBEB" stroke-width="0.6"/>
<line x1="468.1" y1="390.55" x2="651.6" y2="390.55" stroke="#EBEBEB" stroke-width="0.6"/>
<line x1="468.1" y1="348.95" x2="651.6" y2="348.95" stroke="#EBEBEB" stroke-width="0.6"/>
<line x1="468.1" y1="307.35" x2="651.6" y2="307.35" stroke="#EBEBEB" stroke-width="0.6"/>
<line x1="517.8" y1="299.15" x2="517.8" y2="481.75" stroke="#EBEBEB" stroke-width="0.6"/>
<line x1="601.7" y1="299.15" x2="601.7" y2="481.75" stroke="#EBEBEB" stroke-width="0.6"/>
<rect x="480.1" y="307.35" width="75.5" height="48.59" fill="#40E0D0"/>
<rect x="480.1" y="355.94" width="75.5" height="117.81" fill="#FF1493"/>
<rect x="564" y="307.35" width="75.4" height="21.63" fill="#40E0D0"/>
<rect x="564" y="328.98" width="75.4" height="144.77" fill="#FF1493"/>
<rect x="468.1" y="299.15" width="183.5" height="182.6" fill="none" stroke="#999999" stroke-width="1.0"/>
<line x1="466.2" y1="473.75" x2="468.1" y2="473.75" stroke="#555" stroke-width="0.5"/>
<text x="465.8" y="475.25" font-size="4.4" text-anchor="end" fill="#4D4D4D" stroke="#4D4D4D" stroke-width="0.05">0.00</text>
<line x1="466.2" y1="432.15" x2="468.1" y2="432.15" stroke="#555" stroke-width="0.5"/>
<text x="465.8" y="433.65" font-size="4.4" text-anchor="end" fill="#4D4D4D" stroke="#4D4D4D" stroke-width="0.05">0.25</text>
<line x1="466.2" y1="390.55" x2="468.1" y2="390.55" stroke="#555" stroke-width="0.5"/>
<text x="465.8" y="392.05" font-size="4.4" text-anchor="end" fill="#4D4D4D" stroke="#4D4D4D" stroke-width="0.05">0.50</text>
<line x1="466.2" y1="348.95" x2="468.1" y2="348.95" stroke="#555" stroke-width="0.5"/>
<text x="465.8" y="350.45" font-size="4.4" text-anchor="end" fill="#4D4D4D" stroke="#4D4D4D" stroke-width="0.05">0.75</text>
<line x1="466.2" y1="307.35" x2="468.1" y2="307.35" stroke="#555" stroke-width="0.5"/>
<text x="465.8" y="308.85" font-size="4.4" text-anchor="end" fill="#4D4D4D" stroke="#4D4D4D" stroke-width="0.05">1.00</text>
<line x1="517.8" y1="481.75" x2="517.8" y2="483.55" stroke="#555" stroke-width="0.5"/>
<text x="517.8" y="487.95" font-size="4.5" text-anchor="middle" fill="#4D4D4D">high_risk</text>
<line x1="601.7" y1="481.75" x2="601.7" y2="483.55" stroke="#555" stroke-width="0.5"/>
<text x="601.7" y="487.95" font-size="4.5" text-anchor="middle" fill="#4D4D4D">low_risk</text>
<text x="454.4" y="390.55" font-size="5.4" text-anchor="middle" fill="#000" transform="rotate(-90 454.4 390.55)" stroke="#000" stroke-width="0.1">count</text>
<text x="559.8" y="496.35" font-size="5.4" text-anchor="middle" fill="#000" stroke="#000" stroke-width="0.1">X−squared = 8.3827, df = 1, p−value = 0.003786</text>
<text x="659.8" y="383.35" font-size="5.3" text-anchor="start" fill="#000" stroke="#000" stroke-width="0.25">Response</text>
<rect x="660" y="386.55" width="8.2" height="7.6" fill="#40E0D0"/>
<rect x="660" y="394.95" width="8.2" height="7.6" fill="#FF1493"/>
<text x="670.8" y="392.05" font-size="4.4" text-anchor="start" fill="#000" stroke="#000" stroke-width="0.05">NR</text>
<text x="670.8" y="400.45" font-size="4.4" text-anchor="start" fill="#000" stroke="#000" stroke-width="0.05">R</text>
<text x="467.6" y="534.9" font-size="6.5" text-anchor="start" fill="#000" stroke="#000" stroke-width="0.1">I</text>
<line x1="468.1" y1="717.3" x2="651.6" y2="717.3" stroke="#F2F2F2" stroke-width="0.4"/>
<line x1="468.1" y1="675.7" x2="651.6" y2="675.7" stroke="#F2F2F2" stroke-width="0.4"/>
<line x1="468.1" y1="634.1" x2="651.6" y2="634.1" stroke="#F2F2F2" stroke-width="0.4"/>
<line x1="468.1" y1="592.5" x2="651.6" y2="592.5" stroke="#F2F2F2" stroke-width="0.4"/>
<line x1="468.1" y1="738.1" x2="651.6" y2="738.1" stroke="#EBEBEB" stroke-width="0.6"/>
<line x1="468.1" y1="696.5" x2="651.6" y2="696.5" stroke="#EBEBEB" stroke-width="0.6"/>
<line x1="468.1" y1="654.9" x2="651.6" y2="654.9" stroke="#EBEBEB" stroke-width="0.6"/>
<line x1="468.1" y1="613.3" x2="651.6" y2="613.3" stroke="#EBEBEB" stroke-width="0.6"/>
<line x1="468.1" y1="571.7" x2="651.6" y2="571.7" stroke="#EBEBEB" stroke-width="0.6"/>
<line x1="517.8" y1="563.5" x2="517.8" y2="746.1" stroke="#EBEBEB" stroke-width="0.6"/>
<line x1="601.7" y1="563.5" x2="601.7" y2="746.1" stroke="#EBEBEB" stroke-width="0.6"/>
<rect x="480.1" y="571.7" width="75.5" height="92.35" fill="#40E0D0"/>
<rect x="480.1" y="664.05" width="75.5" height="74.05" fill="#FF1493"/>
<rect x="564" y="571.7" width="75.4" height="131.12" fill="#40E0D0"/>
<rect x="564" y="702.82" width="75.4" height="35.28" fill="#FF1493"/>
<rect x="468.1" y="563.5" width="183.5" height="182.6" fill="none" stroke="#999999" stroke-width="1.0"/>
<line x1="466.2" y1="738.1" x2="468.1" y2="738.1" stroke="#555" stroke-width="0.5"/>
<text x="465.8" y="739.6" font-size="4.4" text-anchor="end" fill="#4D4D4D" stroke="#4D4D4D" stroke-width="0.05">0.00</text>
<line x1="466.2" y1="696.5" x2="468.1" y2="696.5" stroke="#555" stroke-width="0.5"/>
<text x="465.8" y="698" font-size="4.4" text-anchor="end" fill="#4D4D4D" stroke="#4D4D4D" stroke-width="0.05">0.25</text>
<line x1="466.2" y1="654.9" x2="468.1" y2="654.9" stroke="#555" stroke-width="0.5"/>
<text x="465.8" y="656.4" font-size="4.4" text-anchor="end" fill="#4D4D4D" stroke="#4D4D4D" stroke-width="0.05">0.50</text>
<line x1="466.2" y1="613.3" x2="468.1" y2="613.3" stroke="#555" stroke-width="0.5"/>
<text x="465.8" y="614.8" font-size="4.4" text-anchor="end" fill="#4D4D4D" stroke="#4D4D4D" stroke-width="0.05">0.75</text>
<line x1="466.2" y1="571.7" x2="468.1" y2="571.7" stroke="#555" stroke-width="0.5"/>
<text x="465.8" y="573.2" font-size="4.4" text-anchor="end" fill="#4D4D4D" stroke="#4D4D4D" stroke-width="0.05">1.00</text>
<line x1="517.8" y1="746.1" x2="517.8" y2="747.9" stroke="#555" stroke-width="0.5"/>
<text x="517.8" y="752.3" font-size="4.5" text-anchor="middle" fill="#4D4D4D">high_risk</text>
<line x1="601.7" y1="746.1" x2="601.7" y2="747.9" stroke="#555" stroke-width="0.5"/>
<text x="601.7" y="752.3" font-size="4.5" text-anchor="middle" fill="#4D4D4D">low_risk</text>
<text x="454.4" y="654.9" font-size="5.4" text-anchor="middle" fill="#000" transform="rotate(-90 454.4 654.9)" stroke="#000" stroke-width="0.1">count</text>
<text x="559.8" y="760.7" font-size="5.4" text-anchor="middle" fill="#000" stroke="#000" stroke-width="0.1">X−squared = 13.613, df = 1, p−value = 0.0002247</text>
<text x="659.8" y="647.7" font-size="5.3" text-anchor="start" fill="#000" stroke="#000" stroke-width="0.25">Response</text>
<rect x="660" y="650.9" width="8.2" height="7.6" fill="#40E0D0"/>
<rect x="660" y="659.3" width="8.2" height="7.6" fill="#FF1493"/>
<text x="670.8" y="656.4" font-size="4.4" text-anchor="start" fill="#000" stroke="#000" stroke-width="0.05">NR</text>
<text x="670.8" y="664.8" font-size="4.4" text-anchor="start" fill="#000" stroke="#000" stroke-width="0.05">R</text>
<text x="467.6" y="799.25" font-size="6.5" text-anchor="start" fill="#000" stroke="#000" stroke-width="0.1">L</text>
<line x1="468.1" y1="981.65" x2="651.6" y2="981.65" stroke="#F2F2F2" stroke-width="0.4"/>
<line x1="468.1" y1="940.05" x2="651.6" y2="940.05" stroke="#F2F2F2" stroke-width="0.4"/>
<line x1="468.1" y1="898.45" x2="651.6" y2="898.45" stroke="#F2F2F2" stroke-width="0.4"/>
<line x1="468.1" y1="856.85" x2="651.6" y2="856.85" stroke="#F2F2F2" stroke-width="0.4"/>
<line x1="468.1" y1="1002.45" x2="651.6" y2="1002.45" stroke="#EBEBEB" stroke-width="0.6"/>
<line x1="468.1" y1="960.85" x2="651.6" y2="960.85" stroke="#EBEBEB" stroke-width="0.6"/>
<line x1="468.1" y1="919.25" x2="651.6" y2="919.25" stroke="#EBEBEB" stroke-width="0.6"/>
<line x1="468.1" y1="877.65" x2="651.6" y2="877.65" stroke="#EBEBEB" stroke-width="0.6"/>
<line x1="468.1" y1="836.05" x2="651.6" y2="836.05" stroke="#EBEBEB" stroke-width="0.6"/>
<line x1="517.8" y1="827.85" x2="517.8" y2="1010.45" stroke="#EBEBEB" stroke-width="0.6"/>
<line x1="601.7" y1="827.85" x2="601.7" y2="1010.45" stroke="#EBEBEB" stroke-width="0.6"/>
<rect x="480.1" y="836.05" width="75.5" height="162.74" fill="#40E0D0"/>
<rect x="480.1" y="998.79" width="75.5" height="3.66" fill="#FF1493"/>
<rect x="564" y="836.05" width="75.4" height="158.91" fill="#40E0D0"/>
<rect x="564" y="994.96" width="75.4" height="7.49" fill="#FF1493"/>
<rect x="468.1" y="827.85" width="183.5" height="182.6" fill="none" stroke="#999999" stroke-width="1.0"/>
<line x1="466.2" y1="1002.45" x2="468.1" y2="1002.45" stroke="#555" stroke-width="0.5"/>
<text x="465.8" y="1003.95" font-size="4.4" text-anchor="end" fill="#4D4D4D" stroke="#4D4D4D" stroke-width="0.05">0.00</text>
<line x1="466.2" y1="960.85" x2="468.1" y2="960.85" stroke="#555" stroke-width="0.5"/>
<text x="465.8" y="962.35" font-size="4.4" text-anchor="end" fill="#4D4D4D" stroke="#4D4D4D" stroke-width="0.05">0.25</text>
<line x1="466.2" y1="919.25" x2="468.1" y2="919.25" stroke="#555" stroke-width="0.5"/>
<text x="465.8" y="920.75" font-size="4.4" text-anchor="end" fill="#4D4D4D" stroke="#4D4D4D" stroke-width="0.05">0.50</text>
<line x1="466.2" y1="877.65" x2="468.1" y2="877.65" stroke="#555" stroke-width="0.5"/>
<text x="465.8" y="879.15" font-size="4.4" text-anchor="end" fill="#4D4D4D" stroke="#4D4D4D" stroke-width="0.05">0.75</text>
<line x1="466.2" y1="836.05" x2="468.1" y2="836.05" stroke="#555" stroke-width="0.5"/>
<text x="465.8" y="837.55" font-size="4.4" text-anchor="end" fill="#4D4D4D" stroke="#4D4D4D" stroke-width="0.05">1.00</text>
<line x1="517.8" y1="1010.45" x2="517.8" y2="1012.25" stroke="#555" stroke-width="0.5"/>
<text x="517.8" y="1016.65" font-size="4.5" text-anchor="middle" fill="#4D4D4D">high_risk</text>
<line x1="601.7" y1="1010.45" x2="601.7" y2="1012.25" stroke="#555" stroke-width="0.5"/>
<text x="601.7" y="1016.65" font-size="4.5" text-anchor="middle" fill="#4D4D4D">low_risk</text>
<text x="454.4" y="919.25" font-size="5.4" text-anchor="middle" fill="#000" transform="rotate(-90 454.4 919.25)" stroke="#000" stroke-width="0.1">count</text>
<text x="559.8" y="1025.05" font-size="5.4" text-anchor="middle" fill="#000" stroke="#000" stroke-width="0.1">X−squared = 0.17262, df = 1, p−value = 0.6778</text>
<text x="659.8" y="912.05" font-size="5.3" text-anchor="start" fill="#000" stroke="#000" stroke-width="0.25">Response</text>
<rect x="660" y="915.25" width="8.2" height="7.6" fill="#40E0D0"/>
<rect x="660" y="923.65" width="8.2" height="7.6" fill="#FF1493"/>
<text x="670.8" y="920.75" font-size="4.4" text-anchor="start" fill="#000" stroke="#000" stroke-width="0.05">NR</text>
<text x="670.8" y="929.15" font-size="4.4" text-anchor="start" fill="#000" stroke="#000" stroke-width="0.05">R</text>
</svg>
</body></html>
